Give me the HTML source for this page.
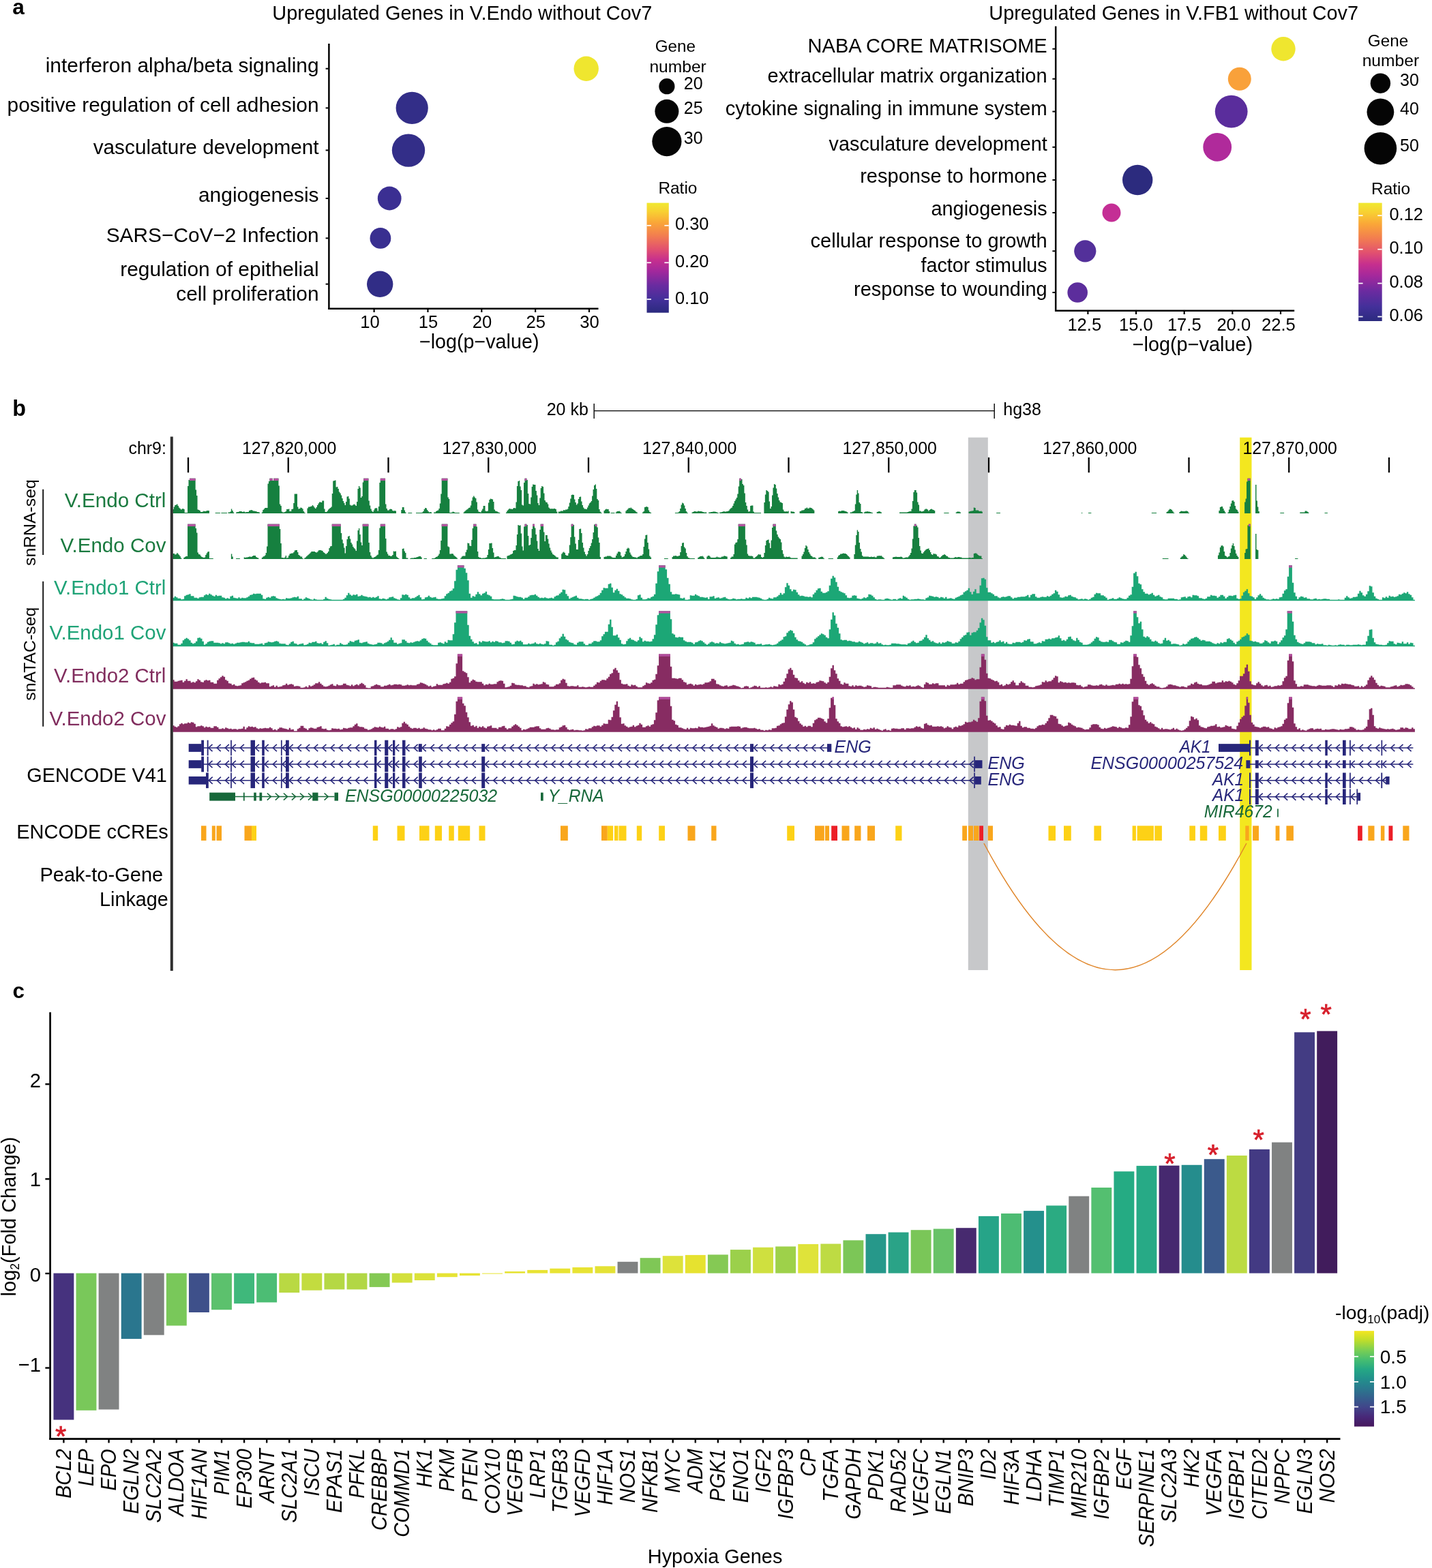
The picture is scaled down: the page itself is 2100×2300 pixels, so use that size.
<!DOCTYPE html>
<html lang="en"><head><meta charset="utf-8"><title>Figure</title>
<style>
html,body{margin:0;padding:0;background:#fff;}
body{width:2100px;height:2300px;overflow:hidden;}
svg{display:block;font-family:'Liberation Sans', sans-serif;}
svg text{font-family:'Liberation Sans', sans-serif;}
</style></head><body>
<svg width="2100" height="2300" viewBox="0 0 2100 2300">
<defs>
<linearGradient id="gRatio" x1="0" y1="1" x2="0" y2="0">
<stop offset="0" stop-color="#2b2a7e"/>
<stop offset="0.12" stop-color="#43309a"/>
<stop offset="0.25" stop-color="#6a2ba0"/>
<stop offset="0.38" stop-color="#a3289c"/>
<stop offset="0.48" stop-color="#c62f8e"/>
<stop offset="0.58" stop-color="#e2516f"/>
<stop offset="0.70" stop-color="#f27d50"/>
<stop offset="0.82" stop-color="#faa638"/>
<stop offset="0.92" stop-color="#f8d032"/>
<stop offset="1" stop-color="#f0e92f"/>
</linearGradient>
<linearGradient id="gVir" x1="0" y1="0" x2="0" y2="1">
<stop offset="0" stop-color="#f4e61f"/>
<stop offset="0.1" stop-color="#bddd2c"/>
<stop offset="0.2" stop-color="#7bcf53"/>
<stop offset="0.3" stop-color="#47be70"/>
<stop offset="0.4" stop-color="#25a884"/>
<stop offset="0.5" stop-color="#22918c"/>
<stop offset="0.6" stop-color="#2a798e"/>
<stop offset="0.7" stop-color="#355f8d"/>
<stop offset="0.8" stop-color="#41458a"/>
<stop offset="0.9" stop-color="#482878"/>
<stop offset="1" stop-color="#46185d"/>
</linearGradient>
</defs>

<rect x="0" y="0" width="2100" height="2300" fill="#ffffff"/>
<g id="panel-a">
<text x="18.30" y="20.60" font-size="31.6" font-weight="bold">a</text>
<text x="399.30" y="28.70" font-size="28.9" textLength="557.00" lengthAdjust="spacingAndGlyphs">Upregulated Genes in V.Endo without Cov7</text>
<line x1="482.40" y1="64.00" x2="482.40" y2="454.00" stroke="#000" stroke-width="2.5"/>
<line x1="481.20" y1="452.80" x2="877.50" y2="452.80" stroke="#000" stroke-width="2.5"/>
<text x="467.60" y="106.20" font-size="29.8" text-anchor="end" textLength="400.90" lengthAdjust="spacingAndGlyphs">interferon alpha/beta signaling</text>
<line x1="477.60" y1="100.70" x2="481.40" y2="100.70" stroke="#000" stroke-width="2"/>
<text x="467.60" y="163.90" font-size="29.8" text-anchor="end" textLength="457.00" lengthAdjust="spacingAndGlyphs">positive regulation of cell adhesion</text>
<line x1="477.60" y1="158.40" x2="481.40" y2="158.40" stroke="#000" stroke-width="2"/>
<text x="467.60" y="225.90" font-size="29.8" text-anchor="end" textLength="330.90" lengthAdjust="spacingAndGlyphs">vasculature development</text>
<line x1="477.60" y1="220.40" x2="481.40" y2="220.40" stroke="#000" stroke-width="2"/>
<text x="467.60" y="295.90" font-size="29.8" text-anchor="end" textLength="176.70" lengthAdjust="spacingAndGlyphs">angiogenesis</text>
<line x1="477.60" y1="291.00" x2="481.40" y2="291.00" stroke="#000" stroke-width="2"/>
<text x="467.60" y="354.60" font-size="29.8" text-anchor="end" textLength="311.90" lengthAdjust="spacingAndGlyphs">SARS−CoV−2 Infection</text>
<line x1="477.60" y1="349.40" x2="481.40" y2="349.40" stroke="#000" stroke-width="2"/>
<text x="467.60" y="405.10" font-size="29.8" text-anchor="end" textLength="291.40" lengthAdjust="spacingAndGlyphs">regulation of epithelial</text>
<line x1="477.60" y1="416.70" x2="481.40" y2="416.70" stroke="#000" stroke-width="2"/>
<text x="467.60" y="440.90" font-size="29.8" text-anchor="end" textLength="209.40" lengthAdjust="spacingAndGlyphs">cell proliferation</text>
<line x1="548.60" y1="453.80" x2="548.60" y2="458.00" stroke="#000" stroke-width="2.2"/>
<text x="542.60" y="481.20" font-size="25.6" text-anchor="middle">10</text>
<line x1="627.45" y1="453.80" x2="627.45" y2="458.00" stroke="#000" stroke-width="2.2"/>
<text x="628.10" y="481.20" font-size="25.6" text-anchor="middle">15</text>
<line x1="706.30" y1="453.80" x2="706.30" y2="458.00" stroke="#000" stroke-width="2.2"/>
<text x="706.90" y="481.20" font-size="25.6" text-anchor="middle">20</text>
<line x1="785.15" y1="453.80" x2="785.15" y2="458.00" stroke="#000" stroke-width="2.2"/>
<text x="785.70" y="481.20" font-size="25.6" text-anchor="middle">25</text>
<line x1="864.00" y1="453.80" x2="864.00" y2="458.00" stroke="#000" stroke-width="2.2"/>
<text x="864.50" y="481.20" font-size="25.6" text-anchor="middle">30</text>
<text x="702.70" y="511.40" font-size="28.6" text-anchor="middle" textLength="175.50" lengthAdjust="spacingAndGlyphs">−log(p−value)</text>
<circle cx="859.70" cy="100.70" r="18.20" fill="#efe62f"/>
<circle cx="604.20" cy="158.40" r="23.60" fill="#332e88"/>
<circle cx="599.00" cy="220.60" r="24.20" fill="#332e88"/>
<circle cx="571.20" cy="291.00" r="17.40" fill="#3b2f92"/>
<circle cx="557.90" cy="349.40" r="15.40" fill="#392f90"/>
<circle cx="557.20" cy="416.80" r="19.20" fill="#312d86"/>
<text x="990.40" y="75.60" font-size="24.3" text-anchor="middle" textLength="59.30" lengthAdjust="spacingAndGlyphs">Gene</text>
<text x="994.10" y="105.50" font-size="24.3" text-anchor="middle" textLength="83.40" lengthAdjust="spacingAndGlyphs">number</text>
<circle cx="977.90" cy="126.70" r="11.60" fill="#050505"/>
<text x="1002.80" y="131.10" font-size="25">20</text>
<circle cx="977.90" cy="163.30" r="17.50" fill="#050505"/>
<text x="1002.80" y="167.10" font-size="25">25</text>
<circle cx="977.90" cy="207.60" r="21.60" fill="#050505"/>
<text x="1002.80" y="211.20" font-size="25">30</text>
<text x="993.90" y="284.30" font-size="24.8" text-anchor="middle" textLength="57.00" lengthAdjust="spacingAndGlyphs">Ratio</text>
<rect x="948.50" y="297.60" width="32.30" height="161.10" fill="url(#gRatio)"/>
<line x1="948.50" y1="330.80" x2="954.90" y2="330.80" stroke="#fff" stroke-width="1.7"/>
<line x1="974.40" y1="330.80" x2="980.80" y2="330.80" stroke="#fff" stroke-width="1.7"/>
<text x="990.00" y="337.30" font-size="25.4">0.30</text>
<line x1="948.50" y1="385.30" x2="954.90" y2="385.30" stroke="#fff" stroke-width="1.7"/>
<line x1="974.40" y1="385.30" x2="980.80" y2="385.30" stroke="#fff" stroke-width="1.7"/>
<text x="990.00" y="391.80" font-size="25.4">0.20</text>
<line x1="948.50" y1="439.00" x2="954.90" y2="439.00" stroke="#fff" stroke-width="1.7"/>
<line x1="974.40" y1="439.00" x2="980.80" y2="439.00" stroke="#fff" stroke-width="1.7"/>
<text x="990.00" y="445.50" font-size="25.4">0.10</text>
<text x="1450.30" y="28.70" font-size="28.9" textLength="541.70" lengthAdjust="spacingAndGlyphs">Upregulated Genes in V.FB1 without Cov7</text>
<line x1="1548.20" y1="38.50" x2="1548.20" y2="456.90" stroke="#000" stroke-width="2.5"/>
<line x1="1547.00" y1="455.70" x2="1898.20" y2="455.70" stroke="#000" stroke-width="2.5"/>
<text x="1535.70" y="76.60" font-size="29.1" text-anchor="end" textLength="351.10" lengthAdjust="spacingAndGlyphs">NABA CORE MATRISOME</text>
<line x1="1543.40" y1="71.70" x2="1547.20" y2="71.70" stroke="#000" stroke-width="2"/>
<text x="1535.70" y="120.60" font-size="29.1" text-anchor="end" textLength="410.10" lengthAdjust="spacingAndGlyphs">extracellular matrix organization</text>
<line x1="1543.40" y1="115.70" x2="1547.20" y2="115.70" stroke="#000" stroke-width="2"/>
<text x="1535.70" y="168.50" font-size="29.1" text-anchor="end" textLength="472.00" lengthAdjust="spacingAndGlyphs">cytokine signaling in immune system</text>
<line x1="1543.40" y1="163.60" x2="1547.20" y2="163.60" stroke="#000" stroke-width="2"/>
<text x="1535.70" y="220.70" font-size="29.1" text-anchor="end" textLength="320.10" lengthAdjust="spacingAndGlyphs">vasculature development</text>
<line x1="1543.40" y1="215.80" x2="1547.20" y2="215.80" stroke="#000" stroke-width="2"/>
<text x="1535.70" y="268.30" font-size="29.1" text-anchor="end" textLength="274.50" lengthAdjust="spacingAndGlyphs">response to hormone</text>
<line x1="1543.40" y1="264.00" x2="1547.20" y2="264.00" stroke="#000" stroke-width="2"/>
<text x="1535.70" y="316.20" font-size="29.1" text-anchor="end" textLength="170.20" lengthAdjust="spacingAndGlyphs">angiogenesis</text>
<line x1="1543.40" y1="312.00" x2="1547.20" y2="312.00" stroke="#000" stroke-width="2"/>
<text x="1535.70" y="363.40" font-size="29.1" text-anchor="end" textLength="347.20" lengthAdjust="spacingAndGlyphs">cellular response to growth</text>
<line x1="1543.40" y1="368.30" x2="1547.20" y2="368.30" stroke="#000" stroke-width="2"/>
<text x="1535.70" y="399.00" font-size="29.1" text-anchor="end" textLength="185.20" lengthAdjust="spacingAndGlyphs">factor stimulus</text>
<text x="1535.70" y="433.50" font-size="29.1" text-anchor="end" textLength="283.70" lengthAdjust="spacingAndGlyphs">response to wounding</text>
<line x1="1543.40" y1="429.00" x2="1547.20" y2="429.00" stroke="#000" stroke-width="2"/>
<line x1="1595.40" y1="456.80" x2="1595.40" y2="461.00" stroke="#000" stroke-width="2.2"/>
<text x="1590.30" y="485.20" font-size="25.6" text-anchor="middle">12.5</text>
<line x1="1666.05" y1="456.80" x2="1666.05" y2="461.00" stroke="#000" stroke-width="2.2"/>
<text x="1665.90" y="485.20" font-size="25.6" text-anchor="middle">15.0</text>
<line x1="1736.70" y1="456.80" x2="1736.70" y2="461.00" stroke="#000" stroke-width="2.2"/>
<text x="1736.80" y="485.20" font-size="25.6" text-anchor="middle">17.5</text>
<line x1="1807.35" y1="456.80" x2="1807.35" y2="461.00" stroke="#000" stroke-width="2.2"/>
<text x="1809.30" y="485.20" font-size="25.6" text-anchor="middle">20.0</text>
<line x1="1878.00" y1="456.80" x2="1878.00" y2="461.00" stroke="#000" stroke-width="2.2"/>
<text x="1874.90" y="485.20" font-size="25.6" text-anchor="middle">22.5</text>
<text x="1748.90" y="514.50" font-size="28.6" text-anchor="middle" textLength="176.50" lengthAdjust="spacingAndGlyphs">−log(p−value)</text>
<circle cx="1882.00" cy="71.70" r="17.70" fill="#efe62f"/>
<circle cx="1817.80" cy="115.70" r="17.00" fill="#f9a13a"/>
<circle cx="1805.70" cy="163.60" r="23.90" fill="#5a2d9c"/>
<circle cx="1785.20" cy="215.80" r="20.90" fill="#b02a9b"/>
<circle cx="1668.20" cy="264.00" r="22.20" fill="#2c2b7e"/>
<circle cx="1630.00" cy="312.00" r="13.50" fill="#c42e95"/>
<circle cx="1591.30" cy="368.30" r="16.10" fill="#53309a"/>
<circle cx="1580.20" cy="429.00" r="14.80" fill="#5c2d9c"/>
<text x="2035.50" y="67.50" font-size="24.3" text-anchor="middle" textLength="59.30" lengthAdjust="spacingAndGlyphs">Gene</text>
<text x="2039.40" y="97.10" font-size="24.3" text-anchor="middle" textLength="83.40" lengthAdjust="spacingAndGlyphs">number</text>
<circle cx="2024.40" cy="122.20" r="14.70" fill="#050505"/>
<text x="2053.00" y="126.30" font-size="25">30</text>
<circle cx="2024.40" cy="164.30" r="19.90" fill="#050505"/>
<text x="2053.00" y="168.30" font-size="25">40</text>
<circle cx="2024.40" cy="217.70" r="23.80" fill="#050505"/>
<text x="2053.00" y="221.90" font-size="25">50</text>
<text x="2039.60" y="284.60" font-size="24.8" text-anchor="middle" textLength="57.00" lengthAdjust="spacingAndGlyphs">Ratio</text>
<rect x="1992.20" y="297.60" width="34.50" height="173.40" fill="url(#gRatio)"/>
<line x1="1992.20" y1="316.20" x2="1998.60" y2="316.20" stroke="#fff" stroke-width="1.7"/>
<line x1="2020.30" y1="316.20" x2="2026.70" y2="316.20" stroke="#fff" stroke-width="1.7"/>
<text x="2037.50" y="322.70" font-size="25.4">0.12</text>
<line x1="1992.20" y1="365.70" x2="1998.60" y2="365.70" stroke="#fff" stroke-width="1.7"/>
<line x1="2020.30" y1="365.70" x2="2026.70" y2="365.70" stroke="#fff" stroke-width="1.7"/>
<text x="2037.50" y="372.20" font-size="25.4">0.10</text>
<line x1="1992.20" y1="415.60" x2="1998.60" y2="415.60" stroke="#fff" stroke-width="1.7"/>
<line x1="2020.30" y1="415.60" x2="2026.70" y2="415.60" stroke="#fff" stroke-width="1.7"/>
<text x="2037.50" y="422.10" font-size="25.4">0.08</text>
<line x1="1992.20" y1="464.50" x2="1998.60" y2="464.50" stroke="#fff" stroke-width="1.7"/>
<line x1="2020.30" y1="464.50" x2="2026.70" y2="464.50" stroke="#fff" stroke-width="1.7"/>
<text x="2037.50" y="471.00" font-size="25.4">0.06</text>
</g>
<g id="panel-b">
<text x="18.20" y="609.60" font-size="32.4" font-weight="bold">b</text>
<rect x="1419.80" y="641.70" width="29.00" height="781.30" fill="#c7c8ca"/>
<rect x="1818.20" y="641.70" width="17.30" height="781.30" fill="#f3e71f"/>
<text x="862.80" y="608.90" font-size="25.0" text-anchor="end">20 kb</text>
<line x1="871.20" y1="602.60" x2="1458.20" y2="602.60" stroke="#000" stroke-width="1.4"/>
<line x1="871.20" y1="592.00" x2="871.20" y2="614.00" stroke="#000" stroke-width="1.4"/>
<line x1="1458.20" y1="592.00" x2="1458.20" y2="614.00" stroke="#000" stroke-width="1.4"/>
<text x="1471.30" y="608.90" font-size="25.0">hg38</text>
<text x="243.90" y="665.80" font-size="24.9" text-anchor="end">chr9:</text>
<line x1="276.00" y1="671.00" x2="276.00" y2="693.20" stroke="#000" stroke-width="2.3"/>
<line x1="422.75" y1="671.00" x2="422.75" y2="693.20" stroke="#000" stroke-width="2.3"/>
<line x1="569.50" y1="671.00" x2="569.50" y2="693.20" stroke="#000" stroke-width="2.3"/>
<line x1="716.25" y1="671.00" x2="716.25" y2="693.20" stroke="#000" stroke-width="2.3"/>
<line x1="863.00" y1="671.00" x2="863.00" y2="693.20" stroke="#000" stroke-width="2.3"/>
<line x1="1009.75" y1="671.00" x2="1009.75" y2="693.20" stroke="#000" stroke-width="2.3"/>
<line x1="1156.50" y1="671.00" x2="1156.50" y2="693.20" stroke="#000" stroke-width="2.3"/>
<line x1="1303.25" y1="671.00" x2="1303.25" y2="693.20" stroke="#000" stroke-width="2.3"/>
<line x1="1450.00" y1="671.00" x2="1450.00" y2="693.20" stroke="#000" stroke-width="2.3"/>
<line x1="1596.75" y1="671.00" x2="1596.75" y2="693.20" stroke="#000" stroke-width="2.3"/>
<line x1="1743.50" y1="671.00" x2="1743.50" y2="693.20" stroke="#000" stroke-width="2.3"/>
<line x1="1890.25" y1="671.00" x2="1890.25" y2="693.20" stroke="#000" stroke-width="2.3"/>
<line x1="2037.00" y1="671.00" x2="2037.00" y2="693.20" stroke="#000" stroke-width="2.3"/>
<text x="424.15" y="665.70" font-size="24.9" text-anchor="middle">127,820,000</text>
<text x="717.65" y="665.70" font-size="24.9" text-anchor="middle">127,830,000</text>
<text x="1011.15" y="665.70" font-size="24.9" text-anchor="middle">127,840,000</text>
<text x="1304.65" y="665.70" font-size="24.9" text-anchor="middle">127,850,000</text>
<text x="1598.15" y="665.70" font-size="24.9" text-anchor="middle">127,860,000</text>
<text x="1891.65" y="665.70" font-size="24.9" text-anchor="middle">127,870,000</text>
<text x="243.40" y="743.60" font-size="29.2" text-anchor="end" fill="#1a7a3f" textLength="148.70" lengthAdjust="spacingAndGlyphs">V.Endo Ctrl</text>
<text x="243.40" y="810.00" font-size="29.2" text-anchor="end" fill="#1a7a3f" textLength="154.80" lengthAdjust="spacingAndGlyphs">V.Endo Cov</text>
<text x="243.40" y="871.80" font-size="29.2" text-anchor="end" fill="#1fa377" textLength="164.30" lengthAdjust="spacingAndGlyphs">V.Endo1 Ctrl</text>
<text x="243.40" y="938.30" font-size="29.2" text-anchor="end" fill="#1fa377" textLength="170.80" lengthAdjust="spacingAndGlyphs">V.Endo1 Cov</text>
<text x="243.40" y="1001.00" font-size="29.2" text-anchor="end" fill="#812d5e" textLength="164.30" lengthAdjust="spacingAndGlyphs">V.Endo2 Ctrl</text>
<text x="243.40" y="1063.80" font-size="29.2" text-anchor="end" fill="#812d5e" textLength="170.80" lengthAdjust="spacingAndGlyphs">V.Endo2 Cov</text>
<text x="52.40" y="766.60" font-size="24.8" text-anchor="middle" transform="rotate(-90 52.40 766.60)">snRNA-seq</text>
<text x="52.40" y="959.20" font-size="24.8" text-anchor="middle" transform="rotate(-90 52.40 959.20)">snATAC-seq</text>
<line x1="63.20" y1="717.80" x2="63.20" y2="814.00" stroke="#1a1a1a" stroke-width="2.0"/>
<line x1="63.20" y1="852.80" x2="63.20" y2="1065.70" stroke="#1a1a1a" stroke-width="2.0"/>
<text x="244.90" y="1146.90" font-size="28.8" text-anchor="end" textLength="205.60" lengthAdjust="spacingAndGlyphs">GENCODE V41</text>
<text x="246.80" y="1229.90" font-size="28.9" text-anchor="end" textLength="222.60" lengthAdjust="spacingAndGlyphs">ENCODE cCREs</text>
<text x="239.20" y="1293.40" font-size="28.9" text-anchor="end" textLength="180.80" lengthAdjust="spacingAndGlyphs">Peak-to-Gene</text>
<text x="246.80" y="1328.70" font-size="28.9" text-anchor="end" textLength="100.80" lengthAdjust="spacingAndGlyphs">Linkage</text>
<g id="tracks">
<path d="M253.30 753.00V747.0H254.75V743.5H256.20V741.0H257.65V740.5H259.10V739.5H260.55V742.0H262.00V744.5H263.45V746.0H264.90V747.5H266.35V746.5H267.80V746.0H269.25V747.0H270.70V752.0H275.05V713.0H276.50V704.0H277.95V701.7H286.65V718.5H288.10V727.0H289.55V747.5H291.00V748.0H292.45V749.0H293.90V751.0H296.80V750.5H298.25V749.5H299.70V750.0H302.60V749.0H306.95V753.00ZM315.65 753.00V752.0H322.90V753.00ZM324.35 753.00V752.0H333.05V753.00ZM334.50 753.00V751.5H337.40V750.5H338.85V746.5H340.30V749.0H341.75V751.5H343.20V753.00ZM346.10 753.00V751.5H347.55V751.0H350.45V750.0H354.80V751.0H356.25V750.5H359.15V751.5H360.60V751.0H364.95V749.0H366.40V748.5H367.85V748.0H369.30V748.5H370.75V749.5H373.65V750.0H376.55V751.0H379.45V751.5H380.90V753.00ZM383.80 753.00V751.5H385.25V748.0H386.70V746.5H388.15V745.0H392.50V709.5H393.95V706.0H395.40V701.7H399.75V705.0H401.20V701.7H408.45V712.5H409.90V739.5H411.35V742.0H412.80V750.5H414.25V751.5H417.15V751.0H418.60V750.0H420.05V747.0H422.95V746.5H424.40V750.0H427.30V747.0H428.75V746.5H430.20V738.0H431.65V724.5H436.00V743.5H437.45V746.5H438.90V746.0H440.35V744.5H441.80V745.0H443.25V746.5H444.70V750.0H446.15V752.0H447.60V753.00ZM450.50 753.00V745.5H451.95V743.5H454.85V743.0H456.30V742.5H457.75V741.0H459.20V742.5H460.65V744.5H462.10V746.0H463.55V744.0H465.00V741.0H466.45V738.5H467.90V736.5H470.80V737.0H472.25V734.5H475.15V746.5H476.60V751.0H479.50V749.5H480.95V747.5H482.40V746.0H483.85V745.0H485.30V743.5H486.75V724.0H488.20V705.5H489.65V705.0H491.10V704.5H492.55V714.5H494.00V714.0H495.45V717.0H496.90V721.5H498.35V723.5H499.80V726.5H501.25V731.0H502.70V735.0H504.15V738.0H505.60V741.0H507.05V736.0H508.50V728.5H509.95V728.0H511.40V731.5H512.85V740.5H514.30V741.5H517.20V740.5H518.65V739.5H520.10V740.5H521.55V742.0H523.00V736.0H524.45V717.0H525.90V713.0H527.35V715.5H528.80V730.0H530.25V728.0H531.70V707.5H533.15V701.7H540.40V734.5H541.85V741.5H543.30V746.5H544.75V749.5H546.20V751.0H547.65V748.5H549.10V746.0H550.55V745.0H552.00V745.5H553.45V749.5H554.90V743.0H556.35V708.0H557.80V701.7H565.05V739.5H566.50V746.0H567.95V748.5H570.85V747.0H572.30V746.5H573.75V747.0H575.20V749.0H576.65V749.5H578.10V749.0H579.55V749.5H581.00V753.00ZM588.25 753.00V748.0H589.70V744.0H592.60V748.5H594.05V751.5H595.50V753.00ZM598.40 753.00V752.0H604.20V753.00ZM610.00 753.00V752.0H618.70V751.5H620.15V750.0H621.60V747.0H623.05V745.0H624.50V745.5H625.95V748.0H627.40V750.0H628.85V751.5H630.30V751.0H631.75V751.5H633.20V753.00ZM636.10 753.00V751.5H639.00V750.0H640.45V749.0H641.90V748.5H643.35V746.0H644.80V738.5H646.25V724.5H647.70V701.7H656.40V729.5H657.85V732.0H659.30V752.0H662.20V751.5H663.65V750.5H665.10V751.0H666.55V752.0H673.80V753.00ZM679.60 753.00V751.5H681.05V750.0H682.50V748.5H683.95V747.5H685.40V746.5H686.85V745.0H688.30V744.5H689.75V741.5H691.20V734.5H692.65V729.5H694.10V727.5H695.55V729.5H697.00V731.0H698.45V736.5H699.90V747.5H701.35V750.5H702.80V751.0H704.25V751.5H705.70V749.0H707.15V746.5H708.60V742.0H711.50V749.5H712.95V750.0H714.40V749.5H715.85V737.5H717.30V733.0H718.75V731.5H720.20V732.0H721.65V732.5H723.10V736.0H724.55V747.5H726.00V749.5H727.45V750.0H728.90V750.5H730.35V751.5H731.80V752.0H733.25V753.00ZM741.95 753.00V751.5H743.40V749.0H744.85V747.5H746.30V746.0H747.75V746.5H750.65V747.0H752.10V745.5H753.55V745.0H755.00V745.5H756.45V736.5H757.90V713.0H759.35V706.0H760.80V705.0H762.25V713.5H763.70V719.0H765.15V740.5H766.60V741.5H768.05V708.0H769.50V701.7H772.40V704.0H773.85V724.0H775.30V739.0H776.75V739.5H778.20V729.5H779.65V714.0H781.10V710.5H782.55V711.0H785.45V720.0H786.90V726.5H788.35V738.0H789.80V741.0H791.25V730.5H792.70V716.0H794.15V713.0H795.60V714.0H797.05V723.5H798.50V734.0H799.95V736.5H801.40V737.0H802.85V739.5H804.30V744.5H805.75V746.0H807.20V746.5H808.65V746.0H810.10V746.5H811.55V746.0H814.45V747.0H815.90V750.5H817.35V753.00ZM818.80 753.00V750.5H821.70V749.5H826.05V748.0H827.50V748.5H828.95V747.5H831.85V746.5H833.30V743.0H834.75V737.5H836.20V731.5H837.65V726.0H839.10V725.5H840.55V726.0H842.00V732.5H843.45V737.0H844.90V740.5H846.35V738.5H847.80V732.0H849.25V729.0H850.70V728.5H852.15V735.5H853.60V741.0H855.05V744.5H856.50V746.5H859.40V747.0H860.85V744.5H862.30V741.5H863.75V738.5H865.20V737.0H866.65V735.0H868.10V727.5H869.55V718.0H871.00V712.0H872.45V710.5H873.90V717.0H875.35V732.0H876.80V734.0H878.25V747.0H879.70V750.5H881.15V752.0H882.60V753.00ZM885.50 753.00V749.0H886.95V747.5H888.40V746.5H889.85V747.0H892.75V750.0H894.20V753.00ZM895.65 753.00V752.0H901.45V753.00ZM902.90 753.00V751.5H904.35V750.0H907.25V749.5H908.70V750.5H910.15V752.0H911.60V753.00ZM917.40 753.00V749.5H918.85V748.0H920.30V746.5H921.75V745.0H923.20V745.5H924.65V744.5H926.10V746.0H927.55V747.0H929.00V748.0H930.45V749.0H931.90V750.5H933.35V751.5H934.80V753.00ZM942.05 753.00V751.5H943.50V750.0H944.95V744.0H946.40V743.5H947.85V743.0H949.30V744.0H950.75V748.5H952.20V751.0H953.65V752.0H955.10V753.00ZM989.90 753.00V752.0H994.25V751.5H995.70V750.0H997.15V746.0H998.60V740.5H1000.05V737.5H1001.50V738.5H1002.95V741.5H1004.40V746.0H1005.85V750.0H1007.30V752.0H1008.75V753.00ZM1014.55 753.00V751.5H1016.00V751.0H1017.45V750.0H1020.35V750.5H1023.25V749.5H1024.70V750.0H1029.05V750.5H1030.50V751.0H1031.95V751.5H1036.30V753.00ZM1039.20 753.00V751.5H1042.10V751.0H1045.00V750.5H1049.35V751.0H1050.80V751.5H1052.25V752.0H1053.70V753.00ZM1055.15 753.00V751.5H1058.05V751.0H1059.50V750.5H1060.95V750.0H1062.40V750.5H1065.30V750.0H1068.20V749.0H1069.65V747.0H1071.10V745.5H1072.55V744.5H1074.00V742.0H1075.45V738.5H1076.90V735.0H1078.35V732.5H1079.80V730.0H1081.25V724.5H1082.70V713.5H1084.15V701.7H1087.05V703.0H1088.50V710.0H1089.95V712.0H1091.40V723.5H1092.85V737.0H1094.30V742.0H1095.75V747.5H1097.20V750.5H1098.65V750.0H1100.10V742.0H1101.55V741.5H1104.45V750.5H1105.90V752.0H1116.05V753.00ZM1120.40 753.00V737.0H1121.85V725.5H1123.30V719.0H1124.75V720.0H1126.20V721.5H1127.65V735.5H1129.10V746.0H1130.55V743.0H1132.00V726.5H1133.45V715.5H1134.90V710.0H1136.35V711.0H1137.80V716.5H1139.25V724.0H1140.70V729.5H1142.15V734.0H1143.60V736.5H1145.05V737.0H1146.50V738.0H1147.95V747.5H1149.40V750.0H1150.85V750.5H1152.30V750.0H1153.75V750.5H1155.20V749.5H1156.65V753.00ZM1159.55 753.00V750.0H1161.00V750.5H1163.90V751.0H1165.35V753.00ZM1172.60 753.00V750.0H1174.05V749.5H1175.50V748.5H1178.40V748.0H1179.85V746.0H1181.30V745.5H1182.75V744.5H1184.20V746.0H1185.65V745.5H1187.10V744.5H1188.55V745.0H1190.00V745.5H1191.45V747.0H1192.90V748.5H1194.35V753.00ZM1229.15 753.00V750.0H1230.60V749.5H1232.05V750.0H1233.50V749.0H1237.85V749.5H1239.30V750.0H1240.75V750.5H1242.20V751.5H1243.65V753.00ZM1246.55 753.00V751.5H1249.45V750.5H1250.90V750.0H1252.35V749.0H1253.80V739.5H1255.25V725.5H1256.70V719.0H1258.15V723.5H1259.60V737.0H1261.05V739.0H1262.50V751.0H1263.95V751.5H1265.40V753.00ZM1266.85 753.00V751.5H1268.30V750.5H1271.20V750.0H1272.65V750.5H1275.55V751.0H1277.00V751.5H1278.45V752.0H1279.90V753.00ZM1285.70 753.00V751.0H1287.15V750.5H1288.60V750.0H1290.05V750.5H1291.50V751.5H1292.95V753.00ZM1319.05 753.00V751.5H1330.65V751.0H1332.10V750.5H1333.55V750.0H1336.45V746.5H1337.90V735.0H1339.35V722.0H1340.80V719.0H1343.70V722.5H1345.15V736.5H1346.60V740.5H1348.05V749.5H1350.95V750.5H1352.40V750.0H1353.85V749.5H1355.30V747.5H1356.75V746.5H1359.65V747.5H1361.10V749.5H1362.55V748.0H1364.00V747.0H1365.45V746.5H1366.90V747.5H1368.35V748.0H1369.80V749.0H1371.25V753.00ZM1384.30 753.00V752.0H1391.55V753.00ZM1401.70 753.00V751.5H1403.15V750.5H1407.50V751.5H1408.95V753.00ZM1420.55 753.00V750.5H1422.00V750.0H1423.45V749.5H1426.35V749.0H1427.80V744.5H1429.25V745.0H1430.70V748.5H1435.05V749.5H1436.50V750.0H1437.95V749.5H1439.40V750.5H1440.85V753.00ZM1461.15 753.00V752.0H1466.95V753.00ZM1585.85 753.00V752.0H1587.30V753.00ZM1596.00 753.00V752.0H1600.35V753.00ZM1688.80 753.00V752.0H1696.05V753.00ZM1710.55 753.00V751.0H1712.00V750.0H1713.45V748.0H1714.90V746.5H1716.35V747.0H1717.80V748.0H1719.25V750.0H1720.70V752.0H1722.15V753.00ZM1729.40 753.00V751.0H1730.85V750.0H1732.30V749.5H1733.75V750.0H1738.10V749.5H1741.00V750.0H1742.45V752.0H1743.90V753.00ZM1787.40 753.00V749.0H1788.85V744.0H1790.30V743.0H1793.20V746.0H1794.65V749.0H1796.10V751.5H1797.55V753.00ZM1800.45 753.00V751.5H1801.90V747.5H1803.35V743.0H1804.80V738.5H1806.25V734.5H1807.70V734.0H1809.15V736.0H1810.60V742.0H1812.05V746.5H1813.50V748.0H1814.95V750.5H1816.40V753.00ZM1825.10 753.00V736.5H1826.55V731.5H1828.00V706.5H1829.45V701.7H1833.80V753.00ZM1841.05 753.00V711.0H1842.50V734.5H1843.95V743.5H1845.40V750.0H1846.85V753.00ZM1877.30 753.00V752.0H1883.10V753.00ZM1906.30 753.00V751.5H1913.55V749.5H1916.45V750.5H1917.90V751.5H1919.35V753.00ZM1942.55 753.00V752.0H1946.90V753.00Z" fill="#16803f"/>
<rect x="277.95" y="701.70" width="8.70" height="3.40" fill="#b2539f"/>
<rect x="395.40" y="701.70" width="4.35" height="3.40" fill="#b2539f"/>
<rect x="401.20" y="701.70" width="7.25" height="3.40" fill="#b2539f"/>
<rect x="533.15" y="701.70" width="7.25" height="3.40" fill="#b2539f"/>
<rect x="557.80" y="701.70" width="7.25" height="3.40" fill="#b2539f"/>
<rect x="647.70" y="701.70" width="8.70" height="3.40" fill="#b2539f"/>
<rect x="769.50" y="701.70" width="2.90" height="3.40" fill="#b2539f"/>
<rect x="1084.15" y="701.70" width="2.90" height="3.40" fill="#b2539f"/>
<rect x="1829.45" y="701.70" width="4.35" height="3.40" fill="#b2539f"/>
<path d="M253.30 820.00V812.0H256.20V813.5H257.65V813.0H259.10V811.0H260.55V812.5H262.00V814.0H263.45V816.0H264.90V818.5H266.35V820.00ZM269.25 820.00V818.0H270.70V817.0H272.15V816.0H275.05V768.7H286.65V775.0H288.10V781.5H289.55V810.5H291.00V813.0H292.45V813.5H293.90V815.5H295.35V817.0H296.80V817.5H298.25V818.0H299.70V817.5H301.15V814.0H302.60V811.5H304.05V809.5H305.50V809.0H306.95V819.0H312.75V820.00ZM338.85 820.00V812.5H340.30V816.5H341.75V820.00ZM346.10 820.00V819.0H351.90V820.00ZM357.70 820.00V817.5H359.15V818.0H360.60V817.5H363.50V817.0H364.95V816.5H367.85V817.0H369.30V816.0H370.75V815.0H375.10V817.0H376.55V818.0H378.00V818.5H379.45V820.00ZM383.80 820.00V818.0H385.25V816.5H386.70V816.0H388.15V814.5H389.60V811.0H391.05V801.5H392.50V768.7H409.90V776.0H411.35V797.0H412.80V818.0H415.70V818.5H417.15V817.5H418.60V815.0H420.05V818.5H421.50V818.0H422.95V815.0H424.40V812.5H425.85V812.0H427.30V811.5H430.20V810.0H431.65V807.5H433.10V807.0H436.00V810.0H437.45V814.0H438.90V815.0H440.35V816.5H443.25V819.0H444.70V820.00ZM446.15 820.00V818.5H447.60V817.5H449.05V816.0H450.50V814.5H451.95V813.5H453.40V812.0H454.85V810.5H456.30V809.0H462.10V810.0H463.55V810.5H465.00V809.5H466.45V807.5H467.90V807.0H470.80V807.5H472.25V808.0H473.70V810.0H475.15V811.0H476.60V812.5H479.50V811.0H480.95V809.0H482.40V804.0H483.85V801.5H485.30V801.0H486.75V768.7H499.80V782.0H501.25V791.5H502.70V797.0H504.15V803.5H505.60V811.5H507.05V801.0H508.50V791.0H509.95V787.0H511.40V786.0H512.85V790.5H514.30V796.0H515.75V798.5H517.20V802.0H518.65V804.0H520.10V805.5H521.55V808.0H523.00V793.5H524.45V778.0H525.90V775.0H527.35V784.0H528.80V795.5H530.25V800.0H531.70V768.7H540.40V796.0H541.85V810.0H543.30V815.0H544.75V817.5H546.20V818.5H547.65V817.5H549.10V817.0H550.55V816.0H552.00V814.5H553.45V813.5H554.90V807.0H556.35V774.5H557.80V768.7H565.05V790.0H566.50V809.5H567.95V812.5H569.40V815.0H572.30V816.0H573.75V815.5H575.20V814.0H576.65V808.5H578.10V809.0H579.55V808.5H581.00V816.5H582.45V818.0H583.90V819.0H585.35V820.00ZM589.70 820.00V805.0H591.15V804.5H592.60V808.5H594.05V811.0H595.50V818.5H598.40V820.00ZM601.30 820.00V819.0H602.75V818.5H607.10V818.0H610.00V817.5H611.45V817.0H612.90V816.5H614.35V816.0H617.25V817.5H618.70V820.00ZM621.60 820.00V819.0H625.95V820.00ZM633.20 820.00V819.0H637.55V818.0H639.00V817.0H640.45V816.5H641.90V815.0H643.35V812.5H644.80V807.0H646.25V793.0H647.70V768.7H656.40V801.5H657.85V802.5H659.30V812.5H662.20V812.0H663.65V812.5H665.10V814.5H666.55V816.0H668.00V817.0H669.45V818.5H670.90V820.00ZM675.25 820.00V818.5H676.70V816.5H678.15V815.5H682.50V810.0H683.95V806.5H685.40V796.5H686.85V797.0H688.30V800.5H689.75V801.0H691.20V792.0H692.65V775.0H694.10V768.7H698.45V772.5H699.90V809.0H701.35V817.0H702.80V818.0H705.70V819.0H707.15V818.5H711.50V818.0H712.95V817.5H714.40V814.0H715.85V806.0H717.30V797.0H720.20V796.5H721.65V804.0H723.10V810.5H724.55V817.5H726.00V817.0H727.45V816.5H728.90V816.0H731.80V817.5H733.25V818.0H734.70V819.0H741.95V820.00ZM743.40 820.00V815.5H744.85V815.0H746.30V814.5H747.75V813.5H749.20V813.0H750.65V812.0H752.10V808.0H753.55V807.0H756.45V800.0H757.90V784.0H759.35V770.0H760.80V771.0H762.25V770.5H763.70V782.5H765.15V801.5H766.60V807.5H768.05V772.5H769.50V768.7H772.40V770.0H773.85V786.0H775.30V800.0H776.75V799.0H778.20V789.0H779.65V776.0H781.10V768.7H784.00V774.5H785.45V784.0H786.90V793.5H788.35V805.0H789.80V808.0H791.25V777.0H792.70V768.7H797.05V780.5H798.50V794.0H799.95V785.0H802.85V790.5H804.30V797.5H805.75V803.5H807.20V807.5H808.65V810.5H810.10V813.0H811.55V814.0H813.00V815.0H814.45V816.5H815.90V817.5H818.80V820.00ZM823.15 820.00V812.5H824.60V810.5H826.05V809.5H827.50V811.0H828.95V814.0H830.40V815.0H833.30V811.5H834.75V799.5H836.20V788.0H837.65V768.7H840.55V770.0H842.00V787.5H843.45V797.5H844.90V806.0H847.80V792.0H849.25V776.0H850.70V775.5H852.15V782.0H853.60V796.0H855.05V803.5H856.50V809.5H857.95V813.0H859.40V815.5H860.85V813.0H862.30V808.0H863.75V804.0H865.20V801.0H866.65V796.5H868.10V791.0H869.55V781.0H871.00V769.5H872.45V768.7H875.35V773.5H876.80V788.5H878.25V796.0H879.70V817.0H881.15V820.00ZM885.50 820.00V817.0H886.95V816.5H889.85V815.5H895.65V816.5H897.10V817.5H898.55V818.0H902.90V815.0H904.35V812.0H905.80V809.5H907.25V809.0H908.70V810.0H910.15V815.0H911.60V817.5H913.05V817.0H914.50V816.0H915.95V813.0H917.40V809.0H918.85V805.0H920.30V803.5H921.75V804.5H923.20V810.5H924.65V813.5H926.10V815.5H927.55V817.0H930.45V817.5H933.35V818.5H934.80V817.0H936.25V816.5H937.70V815.5H939.15V815.0H942.05V813.0H943.50V802.0H944.95V790.5H946.40V785.0H947.85V784.5H949.30V796.0H950.75V805.5H952.20V815.5H953.65V817.5H955.10V820.00ZM973.95 820.00V819.0H979.75V820.00ZM985.55 820.00V817.0H987.00V815.5H989.90V815.0H991.35V815.5H992.80V816.0H994.25V815.5H995.70V815.0H997.15V810.0H998.60V801.0H1000.05V796.5H1001.50V796.0H1002.95V802.5H1004.40V804.5H1005.85V811.0H1007.30V816.0H1008.75V818.0H1010.20V818.5H1011.65V819.0H1018.90V820.00ZM1023.25 820.00V818.0H1024.70V817.0H1026.15V816.0H1029.05V815.5H1030.50V816.5H1031.95V818.5H1033.40V820.00ZM1036.30 820.00V816.5H1037.75V815.0H1040.65V816.5H1042.10V818.0H1049.35V817.5H1050.80V816.5H1052.25V817.5H1055.15V818.0H1056.60V817.5H1058.05V816.5H1060.95V815.5H1063.85V816.0H1065.30V816.5H1066.75V820.00ZM1071.10 820.00V818.0H1072.55V816.5H1075.45V813.0H1076.90V798.5H1078.35V796.0H1079.80V795.5H1081.25V791.0H1082.70V768.7H1092.85V791.5H1094.30V799.5H1095.75V812.5H1097.20V815.0H1098.65V815.5H1103.00V816.0H1104.45V818.5H1107.35V817.0H1108.80V816.0H1110.25V814.5H1111.70V813.0H1113.15V813.5H1116.05V817.0H1117.50V818.0H1118.95V817.0H1120.40V811.0H1121.85V800.0H1123.30V793.0H1124.75V792.0H1126.20V791.5H1127.65V796.5H1129.10V804.0H1130.55V792.5H1132.00V774.0H1133.45V768.7H1137.80V778.5H1139.25V784.0H1140.70V787.5H1142.15V789.5H1143.60V791.0H1145.05V795.5H1146.50V807.0H1147.95V812.5H1149.40V816.5H1150.85V817.5H1152.30V816.5H1153.75V817.0H1156.65V816.5H1158.10V817.5H1159.55V818.5H1169.70V820.00ZM1175.50 820.00V815.5H1176.95V813.0H1178.40V809.5H1179.85V804.0H1181.30V800.0H1182.75V801.5H1184.20V806.0H1185.65V810.0H1187.10V812.5H1188.55V815.0H1190.00V816.0H1191.45V817.5H1195.80V819.0H1197.25V820.00ZM1200.15 820.00V818.0H1201.60V817.5H1203.05V817.0H1204.50V816.5H1205.95V817.0H1207.40V819.0H1208.85V820.00ZM1214.65 820.00V819.0H1221.90V820.00ZM1227.70 820.00V817.5H1229.15V815.0H1230.60V814.0H1232.05V812.5H1234.95V812.0H1236.40V811.5H1237.85V812.0H1240.75V813.0H1242.20V814.5H1243.65V816.0H1245.10V817.5H1246.55V820.00ZM1252.35 820.00V813.0H1253.80V799.5H1255.25V785.0H1256.70V777.5H1258.15V780.0H1259.60V796.0H1261.05V805.0H1262.50V809.5H1263.95V815.0H1265.40V816.5H1274.10V817.0H1277.00V816.5H1278.45V817.0H1281.35V816.5H1282.80V817.5H1285.70V815.5H1288.60V815.0H1290.05V815.5H1291.50V815.0H1292.95V816.5H1294.40V817.5H1295.85V819.0H1297.30V820.00ZM1308.90 820.00V817.5H1310.35V817.0H1313.25V816.5H1314.70V817.0H1320.50V816.5H1321.95V817.0H1323.40V818.5H1326.30V818.0H1327.75V817.5H1332.10V816.0H1333.55V814.0H1335.00V811.0H1336.45V804.5H1337.90V790.5H1339.35V771.5H1340.80V768.7H1343.70V771.0H1345.15V773.5H1346.60V789.0H1348.05V801.0H1349.50V807.5H1350.95V811.5H1352.40V812.0H1353.85V810.0H1355.30V808.0H1356.75V806.5H1358.20V805.5H1359.65V805.0H1361.10V804.5H1362.55V807.0H1364.00V810.0H1365.45V813.0H1366.90V814.0H1368.35V812.0H1369.80V812.5H1372.70V813.5H1374.15V816.0H1375.60V816.5H1377.05V818.0H1378.50V817.5H1379.95V816.0H1381.40V814.5H1382.85V814.0H1384.30V813.0H1385.75V814.0H1387.20V815.5H1388.65V816.0H1390.10V817.5H1391.55V818.0H1393.00V818.5H1398.80V818.0H1400.25V817.0H1401.70V817.5H1404.60V817.0H1407.50V817.5H1410.40V818.5H1420.55V818.0H1423.45V818.5H1424.90V818.0H1427.80V812.0H1429.25V811.5H1432.15V812.5H1433.60V814.0H1435.05V815.0H1436.50V815.5H1439.40V819.0H1440.85V820.00ZM1704.75 820.00V819.0H1713.45V820.00ZM1730.85 820.00V818.0H1732.30V816.5H1733.75V815.5H1735.20V813.0H1736.65V814.0H1738.10V815.5H1739.55V817.5H1741.00V819.0H1742.45V820.00ZM1785.95 820.00V814.5H1787.40V810.5H1788.85V803.0H1790.30V800.5H1791.75V800.0H1793.20V801.5H1794.65V809.0H1796.10V815.0H1797.55V816.0H1799.00V817.5H1800.45V816.5H1801.90V816.0H1803.35V811.0H1804.80V804.5H1806.25V800.0H1807.70V797.0H1809.15V801.0H1810.60V806.5H1812.05V812.0H1813.50V815.0H1814.95V817.0H1816.40V820.00ZM1825.10 820.00V811.0H1826.55V805.5H1828.00V805.0H1829.45V770.5H1830.90V768.7H1833.80V820.00ZM1841.05 820.00V783.0H1842.50V806.0H1843.95V807.0H1845.40V820.00ZM1899.05 820.00V819.0H1903.40V820.00Z" fill="#16803f"/>
<rect x="275.05" y="768.70" width="11.60" height="3.40" fill="#b2539f"/>
<rect x="392.50" y="768.70" width="17.40" height="3.40" fill="#b2539f"/>
<rect x="486.75" y="768.70" width="13.05" height="3.40" fill="#b2539f"/>
<rect x="531.70" y="768.70" width="8.70" height="3.40" fill="#b2539f"/>
<rect x="557.80" y="768.70" width="7.25" height="3.40" fill="#b2539f"/>
<rect x="647.70" y="768.70" width="8.70" height="3.40" fill="#b2539f"/>
<rect x="694.10" y="768.70" width="4.35" height="3.40" fill="#b2539f"/>
<rect x="769.50" y="768.70" width="2.90" height="3.40" fill="#b2539f"/>
<rect x="781.10" y="768.70" width="2.90" height="3.40" fill="#b2539f"/>
<rect x="792.70" y="768.70" width="4.35" height="3.40" fill="#b2539f"/>
<rect x="837.65" y="768.70" width="2.90" height="3.40" fill="#b2539f"/>
<rect x="872.45" y="768.70" width="2.90" height="3.40" fill="#b2539f"/>
<rect x="1082.70" y="768.70" width="10.15" height="3.40" fill="#b2539f"/>
<rect x="1133.45" y="768.70" width="4.35" height="3.40" fill="#b2539f"/>
<rect x="1340.80" y="768.70" width="2.90" height="3.40" fill="#b2539f"/>
<rect x="1830.90" y="768.70" width="2.90" height="3.40" fill="#b2539f"/>
<path d="M253.30 881.20V876.7H255.70V874.7H258.10V876.2H260.50V877.7H265.30V879.2H267.70V878.7H270.10V874.2H272.50V872.7H274.90V872.2H277.30V871.2H279.70V874.2H284.50V876.7H289.30V877.7H291.70V876.2H294.10V875.7H298.90V873.2H301.30V871.7H303.70V872.7H306.10V870.7H308.50V872.2H310.90V873.7H313.30V874.7H315.70V872.7H318.10V874.2H320.50V873.7H325.30V876.2H327.70V876.7H330.10V878.2H332.50V877.2H334.90V878.2H337.30V874.7H339.70V873.7H342.10V876.7H344.50V877.2H346.90V877.7H349.30V876.2H351.70V877.7H354.10V876.7H356.50V877.2H361.30V876.2H363.70V874.7H366.10V872.7H368.50V872.2H370.90V870.7H373.30V871.2H375.70V870.7H382.90V872.7H385.30V878.2H387.70V878.7H390.10V876.7H392.50V875.7H394.90V876.7H397.30V874.7H399.70V874.2H402.10V874.7H404.50V877.2H406.90V878.2H409.30V878.7H411.70V879.2H414.10V878.7H416.50V879.2H418.90V877.2H421.30V877.7H426.10V877.2H428.50V876.2H430.90V875.7H433.30V876.2H435.70V874.7H438.10V878.2H442.90V879.7H445.30V878.2H447.70V876.2H450.10V877.2H452.50V878.2H454.90V879.2H457.30V879.7H459.70V878.2H462.10V879.2H464.50V879.7H474.10V878.7H476.50V875.7H478.90V877.7H481.30V878.7H483.70V879.2H486.10V879.7H502.90V878.7H505.30V876.7H507.70V873.2H510.10V869.7H512.50V872.2H514.90V873.7H517.30V872.2H519.70V872.7H522.10V871.7H524.50V874.7H526.90V874.2H529.30V872.7H531.70V874.2H534.10V874.7H536.50V875.2H538.90V876.2H541.30V875.7H543.70V876.7H546.10V875.7H548.50V876.7H550.90V875.7H553.30V874.2H555.70V878.2H558.10V878.7H560.50V877.7H562.90V878.2H565.30V879.2H567.70V878.2H570.10V876.2H572.50V875.7H574.90V875.2H577.30V877.2H579.70V878.2H582.10V879.2H584.50V879.7H586.90V877.2H589.30V872.2H591.70V872.7H594.10V871.7H596.50V872.7H598.90V876.2H601.30V878.2H603.70V877.2H608.50V875.7H610.90V874.2H613.30V872.7H615.70V876.2H618.10V879.2H620.50V878.7H622.90V876.2H625.30V875.7H627.70V873.7H630.10V875.7H632.50V876.7H634.90V876.2H637.30V875.7H639.70V878.2H642.10V878.7H646.90V878.2H649.30V877.7H651.70V874.2H654.10V871.2H656.50V869.7H658.90V867.2H661.30V866.2H663.70V863.2H666.10V852.2H668.50V835.7H670.90V829.2H680.50V833.7H682.90V840.2H685.30V851.2H687.70V870.7H690.10V876.7H692.50V874.2H694.90V875.2H697.30V871.7H699.70V868.2H702.10V871.2H704.50V873.2H706.90V870.7H709.30V869.7H711.70V867.7H714.10V872.2H716.50V873.2H718.90V874.7H721.30V878.7H723.70V879.2H733.30V878.7H735.70V878.2H738.10V878.7H740.50V879.7H747.70V879.2H750.10V878.7H752.50V873.7H754.90V874.2H757.30V875.2H759.70V875.7H764.50V876.7H766.90V878.7H769.30V876.7H774.10V875.2H776.50V873.2H778.90V872.7H783.70V871.7H786.10V873.7H788.50V875.7H790.90V877.2H793.30V876.7H795.70V877.2H798.10V876.2H800.50V877.2H802.90V877.7H805.30V877.2H807.70V876.7H810.10V877.7H812.50V875.2H814.90V873.7H817.30V873.2H819.70V870.7H822.10V868.7H824.50V864.7H826.90V865.2H829.30V871.2H831.70V874.2H834.10V878.2H836.50V876.7H838.90V875.7H841.30V874.7H843.70V873.7H846.10V876.7H848.50V878.2H853.30V878.7H855.70V879.2H858.10V878.7H862.90V879.7H865.30V878.7H867.70V878.2H870.10V876.7H872.50V875.2H874.90V874.2H877.30V872.7H879.70V869.7H882.10V865.7H884.50V862.2H886.90V862.7H891.70V856.7H894.10V855.7H896.50V861.7H898.90V869.2H901.30V865.7H903.70V863.7H906.10V866.7H908.50V871.2H910.90V872.2H913.30V874.2H915.70V876.2H918.10V877.7H922.90V878.2H925.30V879.2H927.70V879.7H932.50V878.7H934.90V873.2H937.30V872.2H939.70V876.7H942.10V879.2H946.90V878.7H949.30V877.2H951.70V877.7H954.10V875.7H956.50V874.7H958.90V871.7H961.30V855.7H963.70V838.2H966.10V829.2H975.70V835.2H978.10V847.7H980.50V856.7H982.90V868.2H985.30V871.7H990.10V871.2H992.50V871.7H994.90V872.2H997.30V877.2H999.70V877.7H1002.10V876.7H1004.50V879.7H1009.30V879.2H1011.70V873.2H1014.10V873.7H1018.90V871.7H1021.30V873.2H1023.70V874.2H1026.10V875.7H1030.90V876.2H1033.30V876.7H1035.70V876.2H1038.10V878.7H1040.50V875.2H1045.30V874.2H1047.70V877.7H1050.10V876.7H1052.50V876.2H1054.90V877.7H1057.30V877.2H1059.70V876.2H1062.10V875.7H1064.50V877.7H1066.90V878.7H1069.30V879.2H1071.70V878.7H1074.10V877.7H1076.50V878.2H1078.90V879.2H1081.30V878.7H1086.10V878.2H1088.50V878.7H1093.30V876.7H1095.70V877.7H1098.10V876.2H1100.50V877.2H1102.90V875.7H1110.10V876.2H1112.50V876.7H1114.90V877.7H1117.30V879.2H1119.70V879.7H1124.50V878.7H1126.90V876.7H1129.30V877.7H1131.70V878.2H1134.10V876.2H1138.90V874.7H1141.30V872.7H1143.70V869.7H1146.10V872.2H1148.50V870.2H1150.90V861.2H1153.30V855.2H1155.70V858.7H1158.10V864.2H1160.50V867.2H1162.90V864.7H1165.30V865.2H1167.70V868.7H1170.10V872.2H1172.50V874.2H1174.90V873.7H1177.30V874.2H1179.70V875.2H1184.50V875.7H1186.90V875.2H1189.30V876.2H1191.70V871.7H1194.10V869.2H1196.50V865.7H1198.90V863.2H1201.30V862.7H1203.70V867.7H1206.10V869.7H1210.90V868.7H1213.30V867.2H1215.70V858.7H1218.10V848.7H1220.50V844.7H1222.90V847.2H1225.30V853.7H1227.70V860.7H1230.10V866.7H1232.50V868.2H1234.90V869.2H1237.30V870.2H1239.70V873.2H1242.10V876.7H1244.50V877.2H1246.90V876.7H1249.30V873.7H1251.70V873.2H1254.10V873.7H1256.50V877.7H1258.90V878.2H1261.30V878.7H1263.70V877.7H1266.10V876.2H1268.50V877.2H1270.90V875.7H1273.30V871.7H1275.70V872.2H1278.10V873.7H1280.50V876.2H1282.90V878.7H1285.30V879.7H1287.70V879.2H1292.50V879.7H1297.30V878.2H1299.70V877.7H1302.10V878.2H1304.50V879.2H1306.90V879.7H1309.30V878.7H1314.10V879.7H1316.50V878.2H1318.90V877.2H1321.30V878.2H1323.70V873.7H1326.10V875.2H1328.50V876.7H1330.90V878.7H1333.30V879.7H1335.70V879.2H1340.50V878.7H1345.30V878.2H1347.70V878.7H1350.10V879.2H1354.90V879.7H1357.30V877.2H1359.70V876.2H1362.10V873.7H1364.50V874.2H1366.90V874.7H1369.30V875.7H1371.70V875.2H1374.10V875.7H1376.50V877.2H1378.90V875.7H1381.30V876.2H1383.70V877.7H1386.10V875.7H1388.50V878.2H1390.90V877.7H1393.30V877.2H1395.70V878.2H1398.10V878.7H1400.50V876.7H1402.90V875.7H1405.30V874.7H1407.70V873.2H1410.10V872.2H1412.50V868.7H1414.90V867.2H1417.30V865.7H1419.70V862.7H1422.10V868.2H1424.50V871.7H1426.90V867.7H1429.30V864.2H1431.70V870.2H1436.50V858.7H1438.90V848.2H1441.30V847.7H1443.70V849.7H1446.10V862.2H1448.50V868.7H1453.30V870.2H1455.70V871.7H1458.10V874.2H1462.90V876.2H1465.30V877.2H1467.70V875.7H1470.10V875.2H1472.50V875.7H1474.90V875.2H1477.30V874.2H1482.10V876.2H1484.50V878.2H1486.90V876.7H1491.70V875.7H1496.50V875.2H1503.70V874.2H1506.10V872.7H1508.50V876.2H1510.90V872.7H1513.30V871.2H1518.10V875.2H1520.50V876.7H1525.30V875.7H1527.70V875.2H1530.10V875.7H1534.90V874.2H1537.30V875.2H1539.70V873.7H1542.10V871.7H1544.50V870.2H1546.90V865.7H1549.30V867.7H1551.70V872.2H1554.10V876.2H1556.50V876.7H1558.90V876.2H1561.30V874.7H1563.70V875.2H1566.10V873.2H1568.50V872.7H1570.90V874.7H1573.30V875.7H1575.70V876.2H1578.10V877.7H1580.50V879.2H1582.90V878.7H1585.30V878.2H1587.70V879.2H1590.10V878.2H1592.50V878.7H1594.90V879.7H1597.30V878.7H1599.70V876.7H1602.10V875.7H1604.50V871.7H1606.90V869.7H1609.30V870.2H1614.10V873.2H1618.90V874.7H1621.30V876.7H1623.70V879.7H1626.10V878.7H1628.50V878.2H1630.90V877.2H1633.30V878.7H1638.10V877.7H1640.50V876.2H1642.90V877.2H1645.30V878.2H1647.70V878.7H1652.50V876.7H1654.90V873.7H1657.30V872.2H1659.70V860.7H1662.10V840.7H1664.50V838.7H1666.90V845.2H1669.30V855.7H1671.70V857.2H1674.10V864.2H1676.50V868.2H1678.90V870.7H1683.70V872.2H1686.10V871.2H1688.50V869.7H1690.90V872.7H1693.30V874.7H1695.70V873.7H1698.10V872.7H1700.50V875.2H1702.90V876.2H1705.30V878.7H1707.70V879.2H1712.50V877.7H1722.10V878.7H1726.90V879.7H1729.30V879.2H1731.70V876.2H1734.10V875.7H1736.50V875.2H1738.90V877.2H1741.30V875.2H1743.70V874.7H1746.10V876.2H1748.50V872.7H1750.90V873.2H1755.70V874.2H1758.10V877.2H1762.90V878.2H1765.30V878.7H1767.70V877.7H1770.10V875.2H1774.90V872.7H1777.30V873.7H1782.10V874.2H1784.50V876.7H1786.90V875.2H1789.30V872.7H1794.10V874.7H1796.50V877.7H1798.90V875.7H1801.30V873.7H1806.10V874.2H1808.50V873.2H1810.90V872.7H1813.30V877.7H1815.70V878.7H1818.10V878.2H1820.50V873.7H1822.90V868.7H1825.30V866.7H1827.70V864.2H1830.10V870.2H1832.50V874.2H1834.90V874.7H1837.30V876.2H1839.70V878.7H1842.10V876.2H1844.50V873.2H1846.90V871.2H1849.30V873.7H1851.70V876.7H1854.10V878.2H1856.50V879.2H1861.30V879.7H1863.70V879.2H1866.10V878.2H1868.50V878.7H1870.90V878.2H1873.30V878.7H1875.70V876.2H1878.10V875.7H1880.50V870.7H1882.90V866.2H1885.30V864.2H1887.70V845.7H1890.10V829.2H1894.90V854.7H1897.30V869.2H1899.70V874.7H1902.10V878.7H1904.50V876.2H1906.90V874.7H1909.30V875.2H1911.70V876.7H1914.10V876.2H1916.50V878.2H1921.30V879.2H1926.10V878.2H1928.50V877.7H1930.90V879.2H1933.30V878.7H1935.70V879.2H1938.10V878.7H1940.50V878.2H1945.30V878.7H1950.10V879.7H1962.10V879.2H1964.50V879.7H1971.70V876.7H1974.10V874.2H1976.50V876.2H1978.90V877.7H1981.30V877.2H1983.70V875.7H1988.50V875.2H1990.90V870.7H1993.30V866.7H1995.70V869.2H1998.10V873.2H2000.50V874.7H2002.90V871.7H2005.30V867.2H2007.70V859.2H2010.10V860.2H2012.50V869.2H2014.90V874.7H2017.30V877.7H2019.70V878.7H2022.10V879.7H2026.90V876.2H2029.30V877.2H2031.70V875.2H2034.10V876.7H2036.50V873.7H2038.90V875.2H2041.30V874.7H2043.70V875.7H2046.10V875.2H2048.50V874.2H2050.90V871.7H2053.30V872.2H2055.70V870.7H2058.10V869.2H2060.50V870.2H2062.90V868.2H2065.30V871.2H2067.70V872.7H2070.10V876.2H2072.50V879.7H2074.90V881.20Z" fill="#1ca776"/>
<rect x="670.90" y="829.20" width="9.60" height="3.40" fill="#b2539f"/>
<rect x="966.10" y="829.20" width="9.60" height="3.40" fill="#b2539f"/>
<rect x="1890.10" y="829.20" width="4.80" height="3.40" fill="#b2539f"/>
<path d="M253.30 948.20V942.7H255.70V943.7H260.50V945.7H265.30V943.7H267.70V939.2H270.10V937.2H272.50V935.7H274.90V937.2H277.30V939.2H279.70V942.7H282.10V944.2H284.50V943.2H286.90V940.7H289.30V935.7H291.70V935.2H294.10V936.7H296.50V940.7H298.90V945.7H301.30V944.2H303.70V941.7H306.10V940.7H308.50V940.2H313.30V942.7H320.50V943.2H322.90V944.2H325.30V943.2H327.70V944.2H330.10V942.2H334.90V943.2H337.30V944.2H339.70V943.7H342.10V944.7H344.50V943.7H346.90V942.7H351.70V942.2H354.10V941.7H358.90V942.2H363.70V940.7H366.10V942.7H368.50V943.2H373.30V944.7H380.50V944.2H382.90V943.7H385.30V945.7H387.70V943.2H390.10V942.7H392.50V941.2H394.90V941.7H397.30V942.2H399.70V941.7H402.10V940.7H404.50V940.2H406.90V941.2H409.30V943.7H411.70V944.2H418.90V945.7H421.30V946.2H423.70V944.2H426.10V941.7H428.50V940.7H430.90V943.7H433.30V944.2H435.70V945.7H438.10V944.7H440.50V944.2H442.90V943.7H445.30V946.2H447.70V945.7H450.10V944.7H452.50V942.7H454.90V943.2H457.30V941.7H462.10V940.7H464.50V943.2H466.90V943.7H469.30V943.2H471.70V944.7H474.10V941.7H476.50V940.2H478.90V943.2H481.30V946.7H483.70V946.2H486.10V945.7H488.50V944.7H490.90V946.7H493.30V945.7H498.10V943.2H500.50V944.7H502.90V945.7H507.70V945.2H510.10V942.7H512.50V940.2H514.90V941.2H517.30V941.7H519.70V939.7H522.10V939.2H524.50V938.2H526.90V942.7H529.30V943.2H531.70V942.2H534.10V941.7H536.50V941.2H538.90V943.7H541.30V944.7H543.70V945.2H546.10V945.7H548.50V945.2H550.90V944.7H553.30V942.7H558.10V943.2H560.50V944.7H562.90V943.2H565.30V942.2H567.70V940.7H570.10V938.7H572.50V935.2H574.90V938.7H577.30V942.7H582.10V944.7H584.50V943.7H586.90V943.2H589.30V938.2H594.10V940.2H596.50V942.7H598.90V943.2H601.30V942.2H603.70V942.7H606.10V941.7H608.50V940.7H610.90V940.2H613.30V940.7H615.70V939.2H618.10V937.2H620.50V936.2H622.90V936.7H625.30V939.7H627.70V942.2H630.10V943.7H632.50V945.7H634.90V946.2H642.10V942.7H644.50V942.2H646.90V943.2H649.30V944.2H651.70V941.2H654.10V942.7H656.50V938.7H658.90V939.2H663.70V930.2H666.10V913.2H668.50V896.2H685.30V916.7H687.70V932.7H690.10V937.7H692.50V941.2H694.90V943.7H697.30V943.2H699.70V945.2H702.10V940.7H704.50V942.2H706.90V940.2H709.30V940.7H711.70V941.2H716.50V940.2H718.90V942.2H721.30V940.7H723.70V941.7H726.10V940.2H728.50V940.7H730.90V942.2H735.70V943.2H738.10V942.7H740.50V940.2H745.30V940.7H747.70V942.7H750.10V945.2H752.50V944.7H754.90V941.2H757.30V939.7H759.70V940.7H762.10V939.7H764.50V941.7H766.90V945.2H774.10V943.7H776.50V944.7H778.90V944.2H781.30V943.7H783.70V942.2H786.10V944.2H788.50V944.7H790.90V943.7H793.30V944.7H795.70V945.2H798.10V944.2H800.50V940.2H802.90V940.7H805.30V945.7H810.10V946.7H812.50V945.7H814.90V942.2H817.30V940.7H819.70V936.2H822.10V933.7H824.50V929.7H826.90V933.7H829.30V937.7H831.70V939.2H834.10V941.7H836.50V942.7H838.90V943.2H841.30V945.2H843.70V945.7H846.10V942.7H848.50V941.2H855.70V944.2H858.10V946.2H862.90V944.2H867.70V942.2H870.10V940.2H874.90V941.2H879.70V939.2H882.10V933.2H884.50V930.2H886.90V926.7H891.70V915.7H894.10V908.7H896.50V919.7H898.90V932.2H903.70V930.7H906.10V935.2H908.50V938.7H910.90V944.2H913.30V945.2H915.70V944.7H918.10V940.2H920.50V937.2H922.90V935.7H925.30V938.2H927.70V938.7H930.10V940.2H932.50V941.2H934.90V939.2H937.30V934.2H939.70V936.2H942.10V941.2H944.50V939.7H946.90V940.7H951.70V941.2H954.10V940.7H956.50V937.2H958.90V931.2H961.30V916.2H963.70V902.2H966.10V896.2H982.90V908.2H985.30V929.2H987.70V930.7H990.10V934.7H992.50V935.2H994.90V934.2H997.30V934.7H1002.10V939.2H1004.50V940.7H1006.90V941.7H1014.10V942.7H1016.50V944.7H1018.90V942.2H1021.30V941.7H1023.70V940.2H1026.10V939.2H1028.50V940.2H1030.90V942.2H1033.30V944.2H1035.70V945.7H1038.10V944.2H1040.50V942.2H1042.90V941.2H1045.30V942.2H1047.70V943.7H1050.10V943.2H1052.50V943.7H1054.90V941.7H1057.30V943.2H1059.70V943.7H1062.10V944.2H1064.50V943.7H1066.90V943.2H1069.30V942.7H1071.70V939.7H1074.10V940.7H1076.50V943.7H1078.90V945.2H1081.30V944.7H1083.70V945.7H1086.10V945.2H1088.50V944.7H1090.90V942.2H1093.30V941.7H1095.70V941.2H1098.10V942.2H1100.50V941.2H1102.90V941.7H1105.30V942.7H1107.70V945.2H1110.10V944.7H1114.90V944.2H1117.30V946.2H1119.70V945.7H1122.10V945.2H1126.90V944.7H1129.30V945.7H1131.70V946.2H1134.10V945.7H1136.50V945.2H1138.90V943.7H1141.30V941.2H1143.70V939.7H1146.10V938.2H1148.50V934.2H1150.90V933.2H1153.30V928.2H1155.70V925.7H1158.10V924.2H1160.50V925.2H1162.90V928.7H1165.30V934.7H1167.70V938.2H1170.10V940.2H1172.50V940.7H1174.90V941.7H1177.30V943.7H1179.70V945.2H1182.10V946.7H1184.50V946.2H1186.90V945.2H1189.30V944.7H1191.70V942.2H1194.10V937.2H1196.50V935.2H1198.90V933.2H1201.30V931.2H1203.70V929.2H1206.10V930.2H1208.50V931.7H1210.90V934.7H1213.30V936.2H1215.70V923.2H1218.10V908.7H1220.50V898.2H1222.90V902.7H1225.30V914.7H1227.70V920.7H1230.10V929.2H1232.50V938.2H1234.90V939.2H1237.30V938.7H1242.10V940.2H1244.50V939.7H1246.90V940.2H1249.30V941.2H1254.10V942.2H1258.90V940.7H1261.30V941.7H1263.70V942.7H1266.10V944.2H1268.50V943.2H1270.90V942.2H1273.30V944.2H1275.70V943.2H1280.50V944.2H1282.90V943.7H1285.30V941.7H1287.70V943.7H1290.10V943.2H1292.50V945.2H1294.90V946.2H1297.30V945.7H1299.70V946.2H1304.50V945.7H1306.90V943.7H1314.10V944.2H1318.90V944.7H1321.30V945.2H1328.50V945.7H1330.90V943.7H1333.30V943.2H1335.70V941.2H1338.10V939.7H1340.50V941.7H1342.90V943.2H1345.30V942.7H1347.70V940.2H1350.10V939.7H1352.50V937.7H1354.90V934.7H1357.30V931.2H1359.70V936.2H1362.10V938.7H1364.50V941.2H1366.90V940.2H1369.30V942.2H1371.70V943.2H1374.10V943.7H1376.50V942.2H1378.90V944.2H1381.30V942.2H1383.70V942.7H1386.10V941.7H1388.50V940.2H1390.90V941.2H1393.30V941.7H1395.70V943.7H1400.50V942.2H1402.90V942.7H1405.30V940.7H1407.70V937.2H1410.10V934.7H1412.50V932.2H1414.90V931.2H1417.30V927.7H1419.70V927.2H1422.10V931.7H1424.50V928.2H1426.90V927.2H1431.70V924.7H1434.10V921.2H1436.50V913.2H1438.90V906.7H1441.30V909.2H1443.70V917.7H1446.10V934.2H1448.50V939.2H1453.30V942.7H1455.70V941.7H1458.10V943.2H1460.50V941.7H1462.90V941.2H1465.30V939.2H1467.70V941.7H1470.10V940.7H1472.50V943.7H1474.90V941.7H1477.30V944.2H1479.70V944.7H1484.50V942.7H1486.90V943.2H1489.30V941.7H1496.50V942.7H1498.90V941.7H1501.30V939.2H1503.70V939.7H1506.10V937.7H1508.50V937.2H1510.90V941.2H1515.70V944.2H1520.50V943.2H1522.90V942.2H1525.30V943.2H1527.70V940.2H1530.10V940.7H1532.50V937.7H1537.30V936.7H1539.70V937.7H1542.10V936.2H1546.90V935.2H1549.30V934.7H1551.70V932.2H1554.10V936.2H1556.50V939.7H1558.90V938.7H1561.30V940.2H1563.70V937.7H1566.10V934.2H1568.50V933.7H1570.90V937.2H1573.30V939.2H1575.70V940.2H1578.10V935.7H1580.50V938.7H1582.90V941.7H1585.30V942.7H1587.70V945.7H1594.90V945.2H1597.30V944.2H1599.70V942.2H1602.10V940.2H1604.50V936.7H1606.90V934.2H1609.30V935.2H1611.70V939.7H1614.10V941.2H1616.50V941.7H1621.30V941.2H1623.70V941.7H1626.10V938.7H1630.90V940.2H1633.30V941.7H1635.70V942.2H1638.10V944.7H1642.90V942.2H1645.30V942.7H1647.70V941.2H1650.10V939.7H1652.50V940.2H1654.90V941.7H1657.30V932.2H1659.70V918.2H1662.10V896.2H1666.90V905.2H1669.30V914.2H1671.70V911.7H1674.10V923.2H1676.50V933.7H1678.90V935.2H1681.30V933.2H1683.70V934.7H1686.10V937.7H1688.50V940.7H1690.90V941.2H1693.30V939.7H1695.70V941.2H1698.10V943.2H1700.50V944.2H1702.90V943.7H1705.30V938.7H1707.70V935.7H1710.10V939.7H1712.50V938.7H1714.90V940.7H1717.30V944.7H1719.70V944.2H1724.50V944.7H1726.90V945.2H1729.30V946.7H1731.70V946.2H1734.10V944.2H1736.50V945.2H1738.90V944.2H1741.30V941.2H1743.70V938.7H1746.10V936.7H1748.50V936.2H1750.90V934.7H1753.30V934.2H1755.70V935.7H1758.10V937.7H1760.50V939.7H1762.90V938.7H1765.30V939.2H1767.70V940.7H1774.90V941.7H1777.30V943.2H1779.70V944.2H1782.10V944.7H1784.50V943.2H1786.90V944.2H1789.30V942.2H1791.70V943.2H1794.10V941.7H1798.90V937.2H1801.30V936.2H1803.70V938.2H1806.10V939.7H1808.50V942.7H1810.90V944.7H1813.30V941.2H1815.70V939.7H1818.10V937.7H1820.50V934.7H1822.90V933.7H1825.30V932.2H1827.70V929.2H1830.10V931.2H1832.50V939.7H1834.90V940.2H1837.30V941.2H1839.70V940.7H1842.10V941.7H1844.50V942.2H1846.90V943.7H1851.70V942.2H1854.10V939.2H1856.50V940.2H1858.90V942.2H1861.30V943.7H1863.70V940.7H1868.50V939.7H1870.90V940.7H1873.30V944.7H1875.70V942.2H1878.10V939.2H1880.50V935.2H1882.90V932.2H1885.30V923.2H1887.70V896.2H1894.90V911.7H1897.30V931.7H1899.70V937.7H1902.10V941.7H1904.50V943.2H1906.90V944.2H1909.30V944.7H1911.70V943.2H1914.10V941.2H1921.30V941.7H1923.70V943.2H1928.50V945.2H1930.90V944.2H1933.30V944.7H1938.10V944.2H1940.50V946.2H1945.30V946.7H1947.70V945.7H1950.10V946.2H1952.50V946.7H1957.30V946.2H1959.70V946.7H1962.10V945.7H1964.50V945.2H1966.90V945.7H1971.70V946.7H1974.10V945.7H1978.90V946.2H1983.70V945.7H1990.90V945.2H1993.30V945.7H1995.70V946.2H1998.10V945.7H2002.90V940.7H2005.30V932.7H2007.70V923.7H2010.10V923.2H2012.50V935.7H2014.90V942.2H2017.30V944.7H2019.70V945.2H2022.10V945.7H2026.90V946.2H2031.70V945.7H2034.10V943.2H2036.50V940.2H2038.90V940.7H2043.70V944.2H2046.10V945.2H2048.50V942.7H2050.90V943.2H2053.30V943.7H2055.70V941.2H2058.10V944.2H2062.90V942.2H2065.30V944.7H2067.70V942.7H2070.10V943.2H2072.50V946.7H2074.90V948.20Z" fill="#1ca776"/>
<rect x="668.50" y="896.20" width="16.80" height="3.40" fill="#b2539f"/>
<rect x="966.10" y="896.20" width="16.80" height="3.40" fill="#b2539f"/>
<rect x="1662.10" y="896.20" width="4.80" height="3.40" fill="#b2539f"/>
<rect x="1887.70" y="896.20" width="7.20" height="3.40" fill="#b2539f"/>
<path d="M253.30 1010.80V997.3H255.70V999.8H260.50V998.8H262.90V998.3H265.30V997.8H267.70V1000.8H270.10V998.8H272.50V996.3H274.90V998.8H279.70V1001.3H282.10V1000.3H284.50V1001.3H286.90V999.3H289.30V996.3H291.70V997.8H294.10V1000.3H296.50V1000.8H298.90V998.3H301.30V997.3H303.70V998.3H306.10V997.8H308.50V1000.8H313.30V1002.8H318.10V997.8H320.50V995.3H322.90V993.3H325.30V991.3H327.70V992.8H330.10V997.3H332.50V998.8H334.90V1002.3H337.30V1002.8H339.70V1004.8H342.10V1003.8H344.50V1005.8H346.90V1006.3H349.30V1005.8H351.70V1005.3H354.10V1002.3H356.50V1001.3H358.90V1000.3H361.30V998.8H363.70V997.8H366.10V995.8H368.50V994.3H370.90V993.8H373.30V996.8H375.70V998.3H378.10V1000.8H380.50V1002.3H382.90V1001.3H387.70V1000.8H390.10V1002.3H394.90V1007.3H397.30V1006.3H399.70V1005.3H402.10V1007.8H404.50V1005.8H406.90V1007.8H409.30V1007.3H411.70V1006.8H414.10V1005.3H416.50V1004.8H418.90V1002.8H421.30V1004.8H423.70V1003.8H426.10V1003.3H428.50V1004.3H430.90V1006.8H433.30V1006.3H438.10V1006.8H440.50V1008.8H445.30V1008.3H447.70V1006.8H450.10V1008.3H452.50V1005.3H454.90V1006.8H457.30V1005.8H459.70V1004.3H462.10V1002.3H466.90V1000.3H469.30V1002.8H471.70V1004.8H474.10V1006.8H476.50V1007.3H478.90V1006.8H481.30V1005.8H483.70V1004.3H486.10V1003.3H488.50V1005.8H490.90V1006.3H493.30V1003.8H495.70V1005.3H500.50V1004.8H502.90V1002.8H507.70V1004.8H510.10V1005.3H512.50V1006.3H514.90V1004.3H517.30V1006.3H519.70V1004.8H522.10V1003.8H524.50V1005.3H526.90V1003.3H529.30V1001.8H531.70V1003.3H534.10V1005.3H536.50V1008.8H538.90V1009.3H543.70V1006.8H546.10V1006.3H548.50V1004.8H550.90V1003.8H553.30V1004.8H555.70V1005.3H558.10V1007.3H562.90V1005.8H567.70V1004.8H570.10V1003.8H572.50V1005.3H574.90V1004.8H577.30V1003.8H582.10V1004.3H584.50V1003.8H586.90V1004.3H589.30V1005.8H594.10V1005.3H596.50V1004.3H598.90V1005.3H601.30V1004.8H603.70V1005.3H610.90V1003.8H613.30V1003.3H615.70V1001.3H618.10V1001.8H620.50V1002.8H622.90V1003.8H625.30V1005.3H627.70V1006.8H630.10V1005.8H632.50V1007.8H634.90V1006.8H637.30V1006.3H639.70V1003.3H642.10V1004.8H649.30V1003.3H651.70V1002.8H654.10V1001.8H656.50V1002.8H658.90V1000.8H661.30V995.8H663.70V994.8H666.10V992.3H668.50V973.3H670.90V959.5H678.10V984.3H680.50V985.8H682.90V987.3H685.30V993.3H687.70V1001.3H690.10V998.8H692.50V996.8H694.90V997.8H697.30V999.8H699.70V1000.3H706.90V1002.8H709.30V1005.3H711.70V1003.8H714.10V1004.3H716.50V1002.8H718.90V1003.8H723.70V1003.3H728.50V1000.3H730.90V998.8H733.30V998.3H735.70V998.8H738.10V1002.8H740.50V1008.3H742.90V1007.8H745.30V1007.3H747.70V1005.8H750.10V1001.8H752.50V1002.3H754.90V1004.3H757.30V1004.8H762.10V1005.3H766.90V1006.3H771.70V1007.8H774.10V1008.3H776.50V1006.8H778.90V1006.3H781.30V1002.8H783.70V1004.3H786.10V1003.3H788.50V1004.3H790.90V1003.8H793.30V1003.3H795.70V1000.3H798.10V1001.3H800.50V1003.8H802.90V1004.3H805.30V1007.3H812.50V1005.8H814.90V1003.8H819.70V1002.3H822.10V997.8H824.50V995.8H826.90V996.8H829.30V1001.8H831.70V1006.3H834.10V1006.8H836.50V1006.3H841.30V1006.8H846.10V1005.3H848.50V1007.8H853.30V1007.3H855.70V1007.8H858.10V1008.3H860.50V1007.8H862.90V1007.3H865.30V1007.8H870.10V1005.8H872.50V1003.8H874.90V1000.8H877.30V1001.3H879.70V998.8H882.10V997.3H886.90V997.8H889.30V995.3H891.70V992.8H894.10V988.8H896.50V987.3H898.90V981.8H901.30V979.8H903.70V983.3H906.10V986.8H908.50V997.3H910.90V1002.8H913.30V1003.8H918.10V1003.3H920.50V1005.8H922.90V1006.8H925.30V1004.3H927.70V1005.3H930.10V1004.8H932.50V1006.8H934.90V1008.3H942.10V1006.3H944.50V1004.8H946.90V1001.3H949.30V1002.3H951.70V1002.8H954.10V1001.3H956.50V997.8H958.90V996.8H961.30V988.8H963.70V976.3H966.10V959.5H982.90V977.8H985.30V994.8H990.10V995.3H992.50V995.8H994.90V994.8H999.70V997.3H1002.10V1000.3H1004.50V1001.3H1006.90V1004.3H1009.30V1003.3H1011.70V1002.8H1014.10V1003.8H1016.50V1005.8H1018.90V1003.8H1021.30V1004.8H1023.70V1004.3H1026.10V1003.8H1028.50V1004.3H1030.90V1003.3H1033.30V1001.3H1038.10V1000.8H1040.50V999.3H1042.90V995.8H1047.70V997.8H1050.10V1003.3H1052.50V1003.8H1054.90V1005.3H1057.30V1006.3H1059.70V1006.8H1062.10V1005.8H1064.50V1005.3H1066.90V1007.3H1069.30V1006.3H1071.70V1005.8H1074.10V1004.8H1076.50V1005.3H1078.90V1006.3H1081.30V1006.8H1083.70V1007.8H1086.10V1009.3H1088.50V1008.8H1090.90V1006.8H1093.30V1006.3H1095.70V1006.8H1098.10V1009.3H1100.50V1008.3H1102.90V1007.3H1105.30V1005.8H1107.70V1006.3H1110.10V1007.8H1112.50V1006.3H1114.90V1008.8H1122.10V1008.3H1124.50V1008.8H1126.90V1008.3H1129.30V1007.3H1131.70V1008.3H1134.10V1006.3H1136.50V1006.8H1138.90V1007.3H1141.30V1003.8H1143.70V1004.8H1146.10V1003.8H1148.50V999.8H1150.90V994.8H1153.30V988.3H1155.70V981.8H1158.10V979.8H1160.50V982.8H1162.90V989.8H1165.30V994.3H1167.70V994.8H1170.10V998.3H1172.50V1000.8H1174.90V999.3H1177.30V1001.8H1179.70V1003.3H1182.10V1000.8H1184.50V1001.8H1186.90V1000.3H1189.30V1002.8H1191.70V1002.3H1194.10V1002.8H1196.50V1000.8H1198.90V1000.3H1201.30V998.3H1203.70V998.8H1206.10V999.3H1208.50V1001.3H1210.90V1002.8H1213.30V1000.8H1215.70V992.8H1218.10V980.3H1220.50V975.8H1222.90V983.3H1225.30V988.3H1227.70V995.3H1230.10V998.8H1232.50V1003.3H1234.90V1004.3H1237.30V1001.3H1239.70V1002.8H1244.50V1006.3H1246.90V1006.8H1249.30V1005.3H1251.70V1007.3H1254.10V1005.3H1256.50V1006.3H1258.90V1005.8H1263.70V1006.8H1266.10V1007.8H1268.50V1007.3H1270.90V1005.3H1273.30V1005.8H1275.70V1006.3H1278.10V1008.8H1280.50V1007.8H1285.30V1008.3H1287.70V1008.8H1299.70V1007.8H1302.10V1008.3H1304.50V1008.8H1309.30V1005.3H1314.10V1004.3H1321.30V1005.8H1323.70V1006.8H1326.10V1007.3H1328.50V1005.8H1330.90V1006.3H1333.30V1005.3H1335.70V1007.3H1338.10V1006.8H1340.50V1007.3H1342.90V1006.3H1345.30V1005.3H1347.70V1006.3H1350.10V1007.8H1352.50V1008.8H1354.90V1003.8H1357.30V1000.8H1359.70V1001.8H1362.10V1003.8H1366.90V1002.3H1369.30V1003.3H1371.70V1002.3H1376.50V1005.3H1386.10V1007.3H1388.50V1004.8H1390.90V1005.8H1393.30V1004.3H1400.50V1003.8H1402.90V1001.8H1405.30V1003.8H1407.70V1002.8H1412.50V1000.3H1414.90V997.8H1417.30V997.3H1419.70V996.3H1422.10V995.8H1424.50V994.3H1426.90V995.3H1429.30V997.3H1431.70V996.3H1436.50V978.8H1438.90V959.5H1443.70V967.8H1446.10V987.8H1448.50V994.8H1450.90V995.3H1453.30V996.8H1455.70V997.8H1458.10V999.3H1460.50V998.8H1462.90V1000.8H1465.30V1004.8H1467.70V1003.8H1470.10V1006.3H1472.50V1005.3H1474.90V1003.3H1477.30V1004.3H1479.70V1003.3H1482.10V1000.3H1484.50V998.3H1486.90V1001.3H1489.30V1005.3H1494.10V1001.8H1496.50V999.3H1498.90V1001.3H1501.30V1002.3H1503.70V1005.8H1508.50V1007.8H1513.30V1008.3H1515.70V1007.8H1518.10V1006.3H1520.50V1005.8H1522.90V1005.3H1525.30V1004.3H1527.70V1000.3H1530.10V1000.8H1532.50V998.3H1534.90V1000.3H1537.30V999.3H1542.10V997.3H1544.50V994.3H1546.90V991.3H1549.30V992.3H1551.70V1001.3H1554.10V999.3H1556.50V1000.3H1558.90V1001.3H1561.30V1000.8H1563.70V1001.8H1566.10V1001.3H1568.50V1001.8H1570.90V1001.3H1575.70V1001.8H1578.10V1004.8H1580.50V1005.3H1582.90V1004.8H1585.30V1006.8H1587.70V1008.3H1590.10V1007.3H1592.50V1006.8H1594.90V1004.3H1599.70V1005.3H1602.10V1005.8H1606.90V1005.3H1609.30V1005.8H1611.70V1004.3H1614.10V1003.8H1616.50V1005.3H1618.90V1005.8H1621.30V1004.3H1623.70V1005.8H1628.50V1005.3H1630.90V1004.8H1633.30V1005.3H1635.70V1003.8H1640.50V1002.8H1642.90V1003.8H1645.30V1002.8H1647.70V1003.8H1650.10V1003.3H1652.50V1003.8H1654.90V1003.3H1657.30V995.8H1659.70V977.3H1662.10V959.5H1666.90V963.8H1669.30V975.3H1671.70V980.3H1674.10V988.8H1676.50V992.8H1678.90V998.8H1681.30V1003.3H1683.70V1004.8H1686.10V1003.3H1688.50V1002.3H1690.90V1003.8H1693.30V1005.8H1695.70V1007.3H1700.50V1008.8H1702.90V1009.3H1705.30V1008.8H1707.70V1008.3H1710.10V1006.8H1712.50V1004.3H1714.90V1003.8H1717.30V1004.3H1719.70V1005.3H1724.50V1006.3H1726.90V1006.8H1729.30V1007.8H1731.70V1006.8H1736.50V1007.8H1738.90V1008.3H1741.30V1005.8H1743.70V1005.3H1746.10V1002.8H1748.50V1003.8H1750.90V1001.3H1753.30V1000.3H1755.70V1002.8H1758.10V1003.8H1762.90V1005.3H1770.10V1004.8H1772.50V1003.8H1774.90V1002.8H1777.30V999.8H1782.10V1002.3H1784.50V1001.3H1786.90V1000.8H1791.70V998.3H1794.10V1000.8H1796.50V999.3H1798.90V999.8H1801.30V998.8H1803.70V999.8H1806.10V1001.3H1808.50V1003.8H1810.90V1004.8H1813.30V1002.3H1815.70V998.3H1818.10V991.8H1822.90V988.3H1825.30V979.3H1827.70V974.8H1830.10V984.8H1832.50V999.3H1834.90V1003.8H1837.30V1004.8H1839.70V1005.3H1842.10V1002.3H1844.50V1000.3H1846.90V1002.8H1849.30V1005.3H1851.70V1006.8H1854.10V1005.3H1856.50V1004.8H1858.90V1006.8H1861.30V1005.8H1863.70V1007.8H1866.10V1007.3H1868.50V1006.3H1873.30V1005.3H1875.70V1005.8H1878.10V1004.8H1880.50V999.3H1882.90V994.3H1885.30V991.8H1887.70V968.8H1890.10V959.5H1894.90V970.3H1897.30V998.3H1899.70V1003.3H1902.10V1007.3H1906.90V1006.3H1909.30V1006.8H1911.70V1004.3H1918.90V1005.3H1921.30V1005.8H1923.70V1006.3H1928.50V1006.8H1930.90V1005.8H1933.30V1004.8H1935.70V1005.3H1938.10V1005.8H1945.30V1005.3H1952.50V1006.3H1954.90V1007.8H1957.30V1005.3H1959.70V1005.8H1962.10V1003.8H1964.50V1004.8H1966.90V1002.8H1969.30V1003.3H1971.70V1002.8H1974.10V1003.3H1976.50V1003.8H1981.30V1004.8H1983.70V1005.3H1986.10V1006.8H1990.90V1006.3H1993.30V1008.3H1995.70V1006.3H1998.10V1007.8H2000.50V1006.3H2002.90V1004.3H2005.30V997.8H2007.70V993.8H2010.10V991.3H2012.50V993.8H2014.90V997.3H2017.30V1001.8H2019.70V1004.8H2022.10V1006.8H2024.50V1005.8H2026.90V1006.3H2029.30V1006.8H2031.70V1008.3H2038.90V1007.3H2041.30V1006.8H2043.70V1005.8H2046.10V1005.3H2048.50V1007.3H2050.90V1006.3H2053.30V1004.8H2055.70V1005.3H2058.10V1004.8H2060.50V1003.3H2065.30V1003.8H2067.70V1005.3H2070.10V1007.3H2072.50V1009.3H2074.90V1010.80Z" fill="#872c62"/>
<rect x="670.90" y="959.50" width="7.20" height="3.40" fill="#b14c9c"/>
<rect x="966.10" y="959.50" width="16.80" height="3.40" fill="#b14c9c"/>
<rect x="1438.90" y="959.50" width="4.80" height="3.40" fill="#b14c9c"/>
<rect x="1662.10" y="959.50" width="4.80" height="3.40" fill="#b14c9c"/>
<rect x="1890.10" y="959.50" width="4.80" height="3.40" fill="#b14c9c"/>
<path d="M253.30 1073.80V1064.3H255.70V1065.8H258.10V1066.8H260.50V1065.3H262.90V1062.3H265.30V1060.8H267.70V1062.3H270.10V1061.3H274.90V1059.8H277.30V1060.8H279.70V1059.3H282.10V1059.8H284.50V1061.8H286.90V1066.3H289.30V1065.3H294.10V1064.3H296.50V1065.3H298.90V1067.3H301.30V1065.8H303.70V1066.8H306.10V1066.3H308.50V1067.8H313.30V1065.3H318.10V1066.8H320.50V1069.3H325.30V1068.3H327.70V1069.3H330.10V1067.3H332.50V1068.3H334.90V1069.3H337.30V1068.8H339.70V1069.8H342.10V1069.3H346.90V1070.3H349.30V1069.3H354.10V1068.8H356.50V1065.8H358.90V1069.8H361.30V1067.3H363.70V1065.3H366.10V1066.3H368.50V1065.8H370.90V1066.8H373.30V1066.3H375.70V1068.3H378.10V1069.3H380.50V1068.3H382.90V1068.8H385.30V1068.3H387.70V1067.8H390.10V1068.3H394.90V1066.8H397.30V1068.3H399.70V1070.8H402.10V1069.8H404.50V1071.3H406.90V1069.3H409.30V1067.3H414.10V1068.3H416.50V1068.8H418.90V1069.3H421.30V1070.3H423.70V1067.8H426.10V1070.3H428.50V1069.8H430.90V1072.3H435.70V1069.3H438.10V1067.8H440.50V1064.8H445.30V1067.8H447.70V1068.8H450.10V1070.8H452.50V1068.3H454.90V1067.3H457.30V1067.8H459.70V1068.8H464.50V1066.8H466.90V1066.3H469.30V1065.3H471.70V1068.8H474.10V1069.3H476.50V1068.8H478.90V1070.8H481.30V1071.3H483.70V1070.8H486.10V1068.3H488.50V1068.8H493.30V1069.3H495.70V1068.8H498.10V1070.3H500.50V1069.8H502.90V1067.8H505.30V1068.3H507.70V1068.8H510.10V1067.8H512.50V1067.3H517.30V1065.3H519.70V1062.8H522.10V1061.3H524.50V1065.3H526.90V1066.3H531.70V1066.8H534.10V1068.8H536.50V1069.3H538.90V1070.8H541.30V1070.3H543.70V1069.3H546.10V1067.8H548.50V1066.3H550.90V1066.8H553.30V1067.3H555.70V1065.8H558.10V1066.8H560.50V1067.3H562.90V1065.8H565.30V1068.8H570.10V1070.3H572.50V1069.3H577.30V1070.3H579.70V1069.3H582.10V1066.3H584.50V1067.3H586.90V1066.3H589.30V1060.8H591.70V1058.8H594.10V1061.3H596.50V1062.8H598.90V1065.8H601.30V1067.8H603.70V1068.8H606.10V1067.8H610.90V1068.8H613.30V1067.8H615.70V1069.3H618.10V1068.8H620.50V1067.3H622.90V1068.8H625.30V1069.3H627.70V1070.3H632.50V1071.3H634.90V1070.3H637.30V1071.3H639.70V1070.3H642.10V1068.8H646.90V1071.3H651.70V1068.8H654.10V1065.3H656.50V1065.8H658.90V1062.8H661.30V1060.3H663.70V1058.3H666.10V1047.8H668.50V1028.8H670.90V1022.5H678.10V1031.8H680.50V1035.3H682.90V1044.8H685.30V1052.3H687.70V1059.3H690.10V1064.8H692.50V1063.8H694.90V1066.3H697.30V1064.8H699.70V1067.8H702.10V1065.8H704.50V1066.8H706.90V1065.3H709.30V1067.3H711.70V1068.3H714.10V1065.8H716.50V1065.3H718.90V1064.3H721.30V1067.8H728.50V1069.3H730.90V1066.8H735.70V1065.3H738.10V1064.8H740.50V1067.8H742.90V1069.8H745.30V1068.3H750.10V1065.8H752.50V1063.8H754.90V1062.3H757.30V1063.8H759.70V1065.8H762.10V1067.8H764.50V1071.3H766.90V1069.8H769.30V1070.3H771.70V1069.3H774.10V1068.3H776.50V1066.8H783.70V1065.8H786.10V1065.3H790.90V1068.3H793.30V1069.8H800.50V1068.3H802.90V1067.8H805.30V1068.8H807.70V1070.3H812.50V1070.8H814.90V1070.3H819.70V1067.3H822.10V1066.3H824.50V1064.3H826.90V1063.8H829.30V1066.8H831.70V1069.8H834.10V1070.8H836.50V1070.3H838.90V1069.8H841.30V1071.3H843.70V1070.8H848.50V1071.3H853.30V1071.8H855.70V1071.3H858.10V1069.3H860.50V1069.8H862.90V1068.3H867.70V1066.3H870.10V1064.8H872.50V1065.3H874.90V1064.3H879.70V1065.8H882.10V1063.8H884.50V1061.3H886.90V1061.8H891.70V1055.8H894.10V1056.3H896.50V1051.8H898.90V1042.3H901.30V1033.8H903.70V1028.8H906.10V1036.8H908.50V1052.3H910.90V1061.8H913.30V1061.3H915.70V1064.3H918.10V1065.8H920.50V1067.3H922.90V1066.3H925.30V1065.8H927.70V1063.8H930.10V1066.3H932.50V1064.8H934.90V1063.8H937.30V1060.8H939.70V1062.8H942.10V1066.8H946.90V1065.3H949.30V1064.3H951.70V1065.8H954.10V1063.3H956.50V1062.3H958.90V1056.3H961.30V1045.3H963.70V1027.3H966.10V1022.5H982.90V1035.8H985.30V1055.8H987.70V1057.3H990.10V1062.8H992.50V1063.8H994.90V1067.3H999.70V1068.3H1002.10V1069.3H1004.50V1069.8H1006.90V1067.8H1009.30V1069.8H1011.70V1067.8H1014.10V1068.3H1018.90V1067.8H1021.30V1068.3H1023.70V1065.8H1026.10V1066.8H1030.90V1067.3H1033.30V1066.8H1035.70V1066.3H1038.10V1065.8H1040.50V1064.8H1042.90V1061.3H1045.30V1064.3H1047.70V1065.8H1050.10V1066.8H1052.50V1068.8H1054.90V1067.8H1059.70V1068.3H1062.10V1069.3H1064.50V1068.3H1066.90V1068.8H1069.30V1066.3H1071.70V1065.8H1081.30V1065.3H1083.70V1065.8H1086.10V1068.3H1088.50V1067.3H1090.90V1066.8H1095.70V1067.8H1098.10V1068.3H1105.30V1067.8H1107.70V1068.8H1110.10V1069.8H1112.50V1069.3H1114.90V1070.8H1119.70V1071.8H1122.10V1070.8H1124.50V1071.3H1126.90V1070.3H1129.30V1070.8H1131.70V1068.3H1136.50V1067.8H1138.90V1064.8H1141.30V1064.3H1143.70V1062.3H1146.10V1060.8H1148.50V1060.3H1150.90V1051.3H1153.30V1040.8H1155.70V1033.3H1158.10V1028.3H1160.50V1030.3H1162.90V1040.8H1165.30V1051.8H1167.70V1053.3H1170.10V1057.8H1172.50V1061.3H1174.90V1063.3H1177.30V1065.8H1179.70V1064.8H1182.10V1066.3H1184.50V1064.8H1189.30V1066.3H1191.70V1060.8H1194.10V1056.3H1196.50V1054.8H1198.90V1052.8H1203.70V1053.8H1206.10V1054.8H1208.50V1058.3H1210.90V1060.3H1213.30V1054.3H1215.70V1038.3H1218.10V1023.8H1220.50V1022.5H1222.90V1034.3H1225.30V1054.3H1227.70V1058.3H1230.10V1060.8H1232.50V1065.3H1234.90V1066.3H1237.30V1065.8H1239.70V1065.3H1242.10V1066.3H1244.50V1065.3H1246.90V1066.8H1249.30V1068.3H1251.70V1067.3H1254.10V1069.8H1256.50V1067.3H1258.90V1068.8H1261.30V1070.8H1266.10V1069.8H1268.50V1070.3H1270.90V1069.3H1273.30V1069.8H1275.70V1067.8H1278.10V1068.8H1280.50V1067.3H1282.90V1069.8H1285.30V1068.8H1287.70V1069.8H1290.10V1070.8H1292.50V1071.8H1294.90V1070.3H1297.30V1069.3H1299.70V1071.3H1302.10V1070.8H1304.50V1071.8H1306.90V1068.8H1309.30V1068.3H1311.70V1068.8H1316.50V1069.3H1321.30V1068.3H1326.10V1070.3H1328.50V1068.3H1333.30V1068.8H1335.70V1068.3H1340.50V1066.8H1342.90V1065.3H1345.30V1066.3H1347.70V1065.8H1350.10V1067.8H1352.50V1068.8H1354.90V1061.8H1357.30V1060.8H1359.70V1063.3H1362.10V1064.3H1364.50V1063.8H1366.90V1065.8H1374.10V1065.3H1376.50V1065.8H1378.90V1065.3H1381.30V1066.3H1383.70V1068.3H1386.10V1067.3H1388.50V1065.3H1390.90V1066.8H1393.30V1067.3H1395.70V1069.3H1398.10V1066.8H1400.50V1065.8H1402.90V1066.8H1405.30V1064.3H1407.70V1064.8H1410.10V1063.8H1412.50V1062.3H1414.90V1058.8H1417.30V1059.8H1419.70V1059.3H1424.50V1058.3H1426.90V1055.8H1429.30V1057.3H1431.70V1058.8H1434.10V1053.3H1436.50V1028.8H1438.90V1022.5H1443.70V1028.3H1446.10V1049.8H1448.50V1056.8H1450.90V1056.3H1453.30V1057.8H1455.70V1059.8H1458.10V1061.3H1460.50V1064.3H1462.90V1066.8H1465.30V1066.3H1467.70V1069.3H1470.10V1069.8H1472.50V1066.3H1474.90V1063.8H1477.30V1064.3H1479.70V1062.8H1482.10V1063.8H1486.90V1064.3H1489.30V1064.8H1491.70V1060.8H1494.10V1057.8H1496.50V1064.8H1498.90V1067.3H1501.30V1066.3H1506.10V1067.8H1510.90V1068.8H1515.70V1069.3H1518.10V1067.8H1520.50V1065.3H1522.90V1063.8H1527.70V1062.8H1530.10V1063.3H1532.50V1060.8H1534.90V1057.8H1537.30V1053.3H1539.70V1048.8H1544.50V1050.3H1546.90V1050.8H1549.30V1054.3H1551.70V1061.8H1554.10V1062.3H1556.50V1064.3H1558.90V1065.8H1561.30V1064.8H1563.70V1064.3H1566.10V1059.8H1568.50V1060.8H1570.90V1062.8H1573.30V1064.3H1575.70V1065.3H1578.10V1067.3H1580.50V1066.8H1582.90V1067.3H1585.30V1067.8H1587.70V1069.3H1590.10V1070.3H1592.50V1069.8H1597.30V1067.3H1599.70V1063.3H1602.10V1062.3H1609.30V1063.3H1611.70V1066.8H1614.10V1068.8H1616.50V1069.3H1618.90V1067.8H1621.30V1068.8H1623.70V1067.8H1626.10V1067.3H1628.50V1066.3H1630.90V1065.3H1633.30V1065.8H1635.70V1066.3H1638.10V1067.8H1640.50V1066.3H1642.90V1067.3H1645.30V1068.3H1650.10V1067.3H1652.50V1067.8H1654.90V1063.3H1657.30V1051.3H1659.70V1029.3H1662.10V1022.5H1669.30V1034.3H1671.70V1035.8H1674.10V1041.8H1676.50V1049.3H1678.90V1055.8H1681.30V1058.3H1683.70V1060.8H1686.10V1059.3H1688.50V1061.3H1690.90V1062.3H1693.30V1065.8H1695.70V1066.8H1698.10V1068.3H1700.50V1069.8H1702.90V1067.8H1705.30V1069.8H1707.70V1069.3H1712.50V1069.8H1714.90V1070.3H1717.30V1069.3H1719.70V1067.8H1722.10V1070.3H1724.50V1068.8H1726.90V1070.3H1729.30V1071.3H1731.70V1071.8H1734.10V1071.3H1736.50V1069.8H1738.90V1067.8H1741.30V1065.3H1743.70V1057.3H1746.10V1050.8H1748.50V1051.8H1750.90V1055.3H1753.30V1053.8H1755.70V1056.3H1758.10V1064.3H1760.50V1066.3H1762.90V1066.8H1765.30V1067.8H1767.70V1068.3H1770.10V1066.3H1772.50V1065.8H1774.90V1064.8H1779.70V1064.3H1782.10V1062.3H1784.50V1066.3H1786.90V1065.8H1789.30V1067.3H1791.70V1066.8H1794.10V1066.3H1796.50V1063.8H1798.90V1064.8H1801.30V1065.8H1803.70V1065.3H1806.10V1068.8H1808.50V1069.3H1810.90V1069.8H1813.30V1064.8H1815.70V1059.8H1818.10V1054.8H1820.50V1051.8H1822.90V1049.8H1825.30V1035.3H1827.70V1022.5H1830.10V1030.8H1832.50V1048.8H1834.90V1059.8H1837.30V1062.8H1839.70V1065.8H1842.10V1066.3H1844.50V1066.8H1846.90V1067.8H1849.30V1066.8H1851.70V1065.8H1856.50V1066.8H1858.90V1066.3H1861.30V1068.3H1863.70V1068.8H1866.10V1069.8H1868.50V1067.3H1870.90V1068.3H1873.30V1066.8H1875.70V1066.3H1878.10V1065.3H1880.50V1061.8H1882.90V1055.8H1885.30V1053.8H1887.70V1031.3H1890.10V1022.5H1894.90V1037.8H1897.30V1061.3H1899.70V1066.3H1902.10V1069.8H1904.50V1068.3H1906.90V1071.3H1909.30V1070.3H1911.70V1071.3H1914.10V1071.8H1916.50V1070.3H1918.90V1069.3H1921.30V1068.3H1926.10V1070.3H1928.50V1069.3H1930.90V1068.8H1933.30V1069.3H1935.70V1068.8H1938.10V1070.8H1942.90V1069.8H1945.30V1070.3H1950.10V1069.8H1952.50V1069.3H1957.30V1069.8H1959.70V1070.3H1962.10V1070.8H1964.50V1069.8H1966.90V1070.3H1971.70V1069.3H1976.50V1068.8H1978.90V1066.3H1983.70V1067.3H1986.10V1068.8H1988.50V1070.8H1990.90V1070.3H1993.30V1070.8H1998.10V1070.3H2000.50V1068.3H2002.90V1065.8H2005.30V1055.8H2007.70V1040.3H2010.10V1038.8H2012.50V1048.8H2014.90V1065.3H2017.30V1067.8H2019.70V1068.8H2022.10V1067.3H2024.50V1068.3H2026.90V1068.8H2029.30V1069.3H2031.70V1069.8H2034.10V1069.3H2036.50V1069.8H2038.90V1069.3H2041.30V1068.8H2043.70V1069.8H2046.10V1070.8H2048.50V1070.3H2050.90V1069.8H2053.30V1067.3H2058.10V1068.8H2060.50V1067.3H2062.90V1067.8H2065.30V1069.3H2070.10V1067.3H2072.50V1069.3H2074.90V1073.80Z" fill="#872c62"/>
<rect x="670.90" y="1022.50" width="7.20" height="3.40" fill="#b14c9c"/>
<rect x="966.10" y="1022.50" width="16.80" height="3.40" fill="#b14c9c"/>
<rect x="1220.50" y="1022.50" width="2.40" height="3.40" fill="#b14c9c"/>
<rect x="1438.90" y="1022.50" width="4.80" height="3.40" fill="#b14c9c"/>
<rect x="1662.10" y="1022.50" width="7.20" height="3.40" fill="#b14c9c"/>
<rect x="1827.70" y="1022.50" width="2.40" height="3.40" fill="#b14c9c"/>
<rect x="1890.10" y="1022.50" width="4.80" height="3.40" fill="#b14c9c"/>
</g>
<line x1="296.00" y1="1097.00" x2="1213.50" y2="1097.00" stroke="#27267a" stroke-width="1.5"/>
<path d="M311.5 1091.9L305.9 1097.0L311.5 1102.1M323.7 1091.9L318.1 1097.0L323.7 1102.1M335.9 1091.9L330.3 1097.0L335.9 1102.1M345.8 1091.9L340.2 1097.0L345.8 1102.1M357.9 1091.9L352.3 1097.0L357.9 1102.1M379.9 1091.9L374.3 1097.0L379.9 1102.1M393.7 1091.9L388.1 1097.0L393.7 1102.1M405.9 1091.9L400.3 1097.0L405.9 1102.1M419.6 1091.9L414.0 1097.0L419.6 1102.1M429.7 1091.9L424.1 1097.0L429.7 1102.1M441.9 1091.9L436.3 1097.0L441.9 1102.1M454.1 1091.9L448.5 1097.0L454.1 1102.1M466.2 1091.9L460.6 1097.0L466.2 1102.1M478.4 1091.9L472.8 1097.0L478.4 1102.1M490.6 1091.9L485.0 1097.0L490.6 1102.1M502.8 1091.9L497.2 1097.0L502.8 1102.1M515.0 1091.9L509.4 1097.0L515.0 1102.1M527.1 1091.9L521.5 1097.0L527.1 1102.1M539.3 1091.9L533.7 1097.0L539.3 1102.1M558.4 1091.9L552.8 1097.0L558.4 1102.1M575.2 1091.9L569.6 1097.0L575.2 1102.1M585.2 1091.9L579.6 1097.0L585.2 1102.1M600.4 1091.9L594.8 1097.0L600.4 1102.1M612.6 1091.9L607.0 1097.0L612.6 1102.1M624.7 1091.9L619.1 1097.0L624.7 1102.1M636.9 1091.9L631.3 1097.0L636.9 1102.1M649.1 1091.9L643.5 1097.0L649.1 1102.1M661.2 1091.9L655.6 1097.0L661.2 1102.1M673.4 1091.9L667.8 1097.0L673.4 1102.1M685.6 1091.9L680.0 1097.0L685.6 1102.1M697.8 1091.9L692.2 1097.0L697.8 1102.1M717.1 1091.9L711.5 1097.0L717.1 1102.1M729.3 1091.9L723.7 1097.0L729.3 1102.1M741.5 1091.9L735.9 1097.0L741.5 1102.1M753.6 1091.9L748.0 1097.0L753.6 1102.1M765.8 1091.9L760.2 1097.0L765.8 1102.1M778.0 1091.9L772.4 1097.0L778.0 1102.1M790.2 1091.9L784.6 1097.0L790.2 1102.1M802.4 1091.9L796.8 1097.0L802.4 1102.1M814.5 1091.9L808.9 1097.0L814.5 1102.1M826.7 1091.9L821.1 1097.0L826.7 1102.1M838.9 1091.9L833.3 1097.0L838.9 1102.1M851.1 1091.9L845.5 1097.0L851.1 1102.1M863.3 1091.9L857.7 1097.0L863.3 1102.1M875.4 1091.9L869.8 1097.0L875.4 1102.1M887.6 1091.9L882.0 1097.0L887.6 1102.1M899.8 1091.9L894.2 1097.0L899.8 1102.1M912.0 1091.9L906.4 1097.0L912.0 1102.1M924.2 1091.9L918.6 1097.0L924.2 1102.1M936.3 1091.9L930.7 1097.0L936.3 1102.1M948.5 1091.9L942.9 1097.0L948.5 1102.1M960.7 1091.9L955.1 1097.0L960.7 1102.1M972.9 1091.9L967.3 1097.0L972.9 1102.1M985.1 1091.9L979.5 1097.0L985.1 1102.1M997.2 1091.9L991.6 1097.0L997.2 1102.1M1009.4 1091.9L1003.8 1097.0L1009.4 1102.1M1021.6 1091.9L1016.0 1097.0L1021.6 1102.1M1033.8 1091.9L1028.2 1097.0L1033.8 1102.1M1046.0 1091.9L1040.4 1097.0L1046.0 1102.1M1058.1 1091.9L1052.5 1097.0L1058.1 1102.1M1070.3 1091.9L1064.7 1097.0L1070.3 1102.1M1082.5 1091.9L1076.9 1097.0L1082.5 1102.1M1094.7 1091.9L1089.1 1097.0L1094.7 1102.1M1110.9 1091.9L1105.3 1097.0L1110.9 1102.1M1123.1 1091.9L1117.5 1097.0L1123.1 1102.1M1135.3 1091.9L1129.7 1097.0L1135.3 1102.1M1147.4 1091.9L1141.8 1097.0L1147.4 1102.1M1159.6 1091.9L1154.0 1097.0L1159.6 1102.1M1171.8 1091.9L1166.2 1097.0L1171.8 1102.1M1184.0 1091.9L1178.4 1097.0L1184.0 1102.1M1196.2 1091.9L1190.6 1097.0L1196.2 1102.1M1208.3 1091.9L1202.7 1097.0L1208.3 1102.1" fill="none" stroke="#27267a" stroke-width="1.6"/>
<rect x="276.70" y="1091.15" width="18.90" height="11.70" fill="#27267a"/>
<rect x="295.20" y="1085.70" width="3.80" height="22.60" fill="#27267a"/>
<rect x="303.70" y="1085.70" width="1.90" height="22.60" fill="#27267a"/>
<rect x="338.15" y="1085.70" width="1.70" height="22.60" fill="#27267a"/>
<rect x="367.50" y="1085.70" width="6.50" height="22.60" fill="#27267a"/>
<rect x="384.20" y="1085.70" width="3.60" height="22.60" fill="#27267a"/>
<rect x="411.95" y="1085.70" width="1.70" height="22.60" fill="#27267a"/>
<rect x="419.00" y="1085.70" width="4.80" height="22.60" fill="#27267a"/>
<rect x="549.00" y="1085.70" width="3.50" height="22.60" fill="#27267a"/>
<rect x="564.20" y="1085.70" width="5.10" height="22.60" fill="#27267a"/>
<rect x="576.00" y="1085.70" width="3.30" height="22.60" fill="#27267a"/>
<rect x="590.00" y="1085.70" width="4.50" height="22.60" fill="#27267a"/>
<rect x="613.80" y="1091.15" width="5.00" height="11.70" fill="#27267a"/>
<rect x="706.20" y="1091.15" width="5.00" height="11.70" fill="#27267a"/>
<rect x="1100.00" y="1091.15" width="5.00" height="11.70" fill="#27267a"/>
<rect x="1213.00" y="1091.15" width="6.30" height="11.70" fill="#27267a"/>
<line x1="296.00" y1="1121.00" x2="1429.00" y2="1121.00" stroke="#27267a" stroke-width="1.5"/>
<path d="M311.5 1115.9L305.9 1121.0L311.5 1126.1M323.7 1115.9L318.1 1121.0L323.7 1126.1M335.9 1115.9L330.3 1121.0L335.9 1126.1M345.8 1115.9L340.2 1121.0L345.8 1126.1M357.9 1115.9L352.3 1121.0L357.9 1126.1M379.9 1115.9L374.3 1121.0L379.9 1126.1M393.7 1115.9L388.1 1121.0L393.7 1126.1M405.9 1115.9L400.3 1121.0L405.9 1126.1M419.6 1115.9L414.0 1121.0L419.6 1126.1M429.7 1115.9L424.1 1121.0L429.7 1126.1M441.9 1115.9L436.3 1121.0L441.9 1126.1M454.1 1115.9L448.5 1121.0L454.1 1126.1M466.2 1115.9L460.6 1121.0L466.2 1126.1M478.4 1115.9L472.8 1121.0L478.4 1126.1M490.6 1115.9L485.0 1121.0L490.6 1126.1M502.8 1115.9L497.2 1121.0L502.8 1126.1M515.0 1115.9L509.4 1121.0L515.0 1126.1M527.1 1115.9L521.5 1121.0L527.1 1126.1M539.3 1115.9L533.7 1121.0L539.3 1126.1M558.4 1115.9L552.8 1121.0L558.4 1126.1M575.2 1115.9L569.6 1121.0L575.2 1126.1M585.2 1115.9L579.6 1121.0L585.2 1126.1M600.4 1115.9L594.8 1121.0L600.4 1126.1M612.6 1115.9L607.0 1121.0L612.6 1126.1M624.7 1115.9L619.1 1121.0L624.7 1126.1M636.9 1115.9L631.3 1121.0L636.9 1126.1M649.1 1115.9L643.5 1121.0L649.1 1126.1M661.2 1115.9L655.6 1121.0L661.2 1126.1M673.4 1115.9L667.8 1121.0L673.4 1126.1M685.6 1115.9L680.0 1121.0L685.6 1126.1M697.8 1115.9L692.2 1121.0L697.8 1126.1M717.1 1115.9L711.5 1121.0L717.1 1126.1M729.3 1115.9L723.7 1121.0L729.3 1126.1M741.5 1115.9L735.9 1121.0L741.5 1126.1M753.6 1115.9L748.0 1121.0L753.6 1126.1M765.8 1115.9L760.2 1121.0L765.8 1126.1M778.0 1115.9L772.4 1121.0L778.0 1126.1M790.2 1115.9L784.6 1121.0L790.2 1126.1M802.4 1115.9L796.8 1121.0L802.4 1126.1M814.5 1115.9L808.9 1121.0L814.5 1126.1M826.7 1115.9L821.1 1121.0L826.7 1126.1M838.9 1115.9L833.3 1121.0L838.9 1126.1M851.1 1115.9L845.5 1121.0L851.1 1126.1M863.3 1115.9L857.7 1121.0L863.3 1126.1M875.4 1115.9L869.8 1121.0L875.4 1126.1M887.6 1115.9L882.0 1121.0L887.6 1126.1M899.8 1115.9L894.2 1121.0L899.8 1126.1M912.0 1115.9L906.4 1121.0L912.0 1126.1M924.2 1115.9L918.6 1121.0L924.2 1126.1M936.3 1115.9L930.7 1121.0L936.3 1126.1M948.5 1115.9L942.9 1121.0L948.5 1126.1M960.7 1115.9L955.1 1121.0L960.7 1126.1M972.9 1115.9L967.3 1121.0L972.9 1126.1M985.1 1115.9L979.5 1121.0L985.1 1126.1M997.2 1115.9L991.6 1121.0L997.2 1126.1M1009.4 1115.9L1003.8 1121.0L1009.4 1126.1M1021.6 1115.9L1016.0 1121.0L1021.6 1126.1M1033.8 1115.9L1028.2 1121.0L1033.8 1126.1M1046.0 1115.9L1040.4 1121.0L1046.0 1126.1M1058.1 1115.9L1052.5 1121.0L1058.1 1126.1M1070.3 1115.9L1064.7 1121.0L1070.3 1126.1M1082.5 1115.9L1076.9 1121.0L1082.5 1126.1M1094.7 1115.9L1089.1 1121.0L1094.7 1126.1M1110.9 1115.9L1105.3 1121.0L1110.9 1126.1M1123.1 1115.9L1117.5 1121.0L1123.1 1126.1M1135.3 1115.9L1129.7 1121.0L1135.3 1126.1M1147.4 1115.9L1141.8 1121.0L1147.4 1126.1M1159.6 1115.9L1154.0 1121.0L1159.6 1126.1M1171.8 1115.9L1166.2 1121.0L1171.8 1126.1M1184.0 1115.9L1178.4 1121.0L1184.0 1126.1M1196.2 1115.9L1190.6 1121.0L1196.2 1126.1M1208.3 1115.9L1202.7 1121.0L1208.3 1126.1M1220.5 1115.9L1214.9 1121.0L1220.5 1126.1M1232.7 1115.9L1227.1 1121.0L1232.7 1126.1M1244.9 1115.9L1239.3 1121.0L1244.9 1126.1M1257.1 1115.9L1251.5 1121.0L1257.1 1126.1M1269.2 1115.9L1263.6 1121.0L1269.2 1126.1M1281.4 1115.9L1275.8 1121.0L1281.4 1126.1M1293.6 1115.9L1288.0 1121.0L1293.6 1126.1M1305.8 1115.9L1300.2 1121.0L1305.8 1126.1M1318.0 1115.9L1312.4 1121.0L1318.0 1126.1M1330.1 1115.9L1324.5 1121.0L1330.1 1126.1M1342.3 1115.9L1336.7 1121.0L1342.3 1126.1M1354.5 1115.9L1348.9 1121.0L1354.5 1126.1M1366.7 1115.9L1361.1 1121.0L1366.7 1126.1M1378.9 1115.9L1373.3 1121.0L1378.9 1126.1M1391.0 1115.9L1385.4 1121.0L1391.0 1126.1M1403.2 1115.9L1397.6 1121.0L1403.2 1126.1M1415.4 1115.9L1409.8 1121.0L1415.4 1126.1M1427.6 1115.9L1422.0 1121.0L1427.6 1126.1" fill="none" stroke="#27267a" stroke-width="1.6"/>
<rect x="276.70" y="1115.15" width="18.90" height="11.70" fill="#27267a"/>
<rect x="295.20" y="1109.70" width="3.80" height="22.60" fill="#27267a"/>
<rect x="303.70" y="1109.70" width="1.90" height="22.60" fill="#27267a"/>
<rect x="338.15" y="1109.70" width="1.70" height="22.60" fill="#27267a"/>
<rect x="367.50" y="1109.70" width="6.50" height="22.60" fill="#27267a"/>
<rect x="384.20" y="1109.70" width="3.60" height="22.60" fill="#27267a"/>
<rect x="411.95" y="1109.70" width="1.70" height="22.60" fill="#27267a"/>
<rect x="419.00" y="1109.70" width="4.80" height="22.60" fill="#27267a"/>
<rect x="549.00" y="1109.70" width="3.50" height="22.60" fill="#27267a"/>
<rect x="564.20" y="1109.70" width="5.10" height="22.60" fill="#27267a"/>
<rect x="576.00" y="1109.70" width="3.30" height="22.60" fill="#27267a"/>
<rect x="590.00" y="1109.70" width="4.50" height="22.60" fill="#27267a"/>
<rect x="614.20" y="1109.70" width="4.60" height="22.60" fill="#27267a"/>
<rect x="706.20" y="1109.70" width="5.00" height="22.60" fill="#27267a"/>
<rect x="1100.00" y="1109.70" width="5.00" height="22.60" fill="#27267a"/>
<rect x="1428.20" y="1109.70" width="1.70" height="22.60" fill="#27267a"/>
<rect x="1429.90" y="1115.15" width="10.60" height="11.70" fill="#27267a"/>
<line x1="300.00" y1="1144.80" x2="1429.00" y2="1144.80" stroke="#27267a" stroke-width="1.5"/>
<path d="M311.7 1139.7L306.1 1144.8L311.7 1149.9M323.9 1139.7L318.3 1144.8L323.9 1149.9M336.1 1139.7L330.5 1144.8L336.1 1149.9M345.8 1139.7L340.2 1144.8L345.8 1149.9M357.9 1139.7L352.3 1144.8L357.9 1149.9M379.9 1139.7L374.3 1144.8L379.9 1149.9M393.7 1139.7L388.1 1144.8L393.7 1149.9M405.9 1139.7L400.3 1144.8L405.9 1149.9M419.6 1139.7L414.0 1144.8L419.6 1149.9M429.7 1139.7L424.1 1144.8L429.7 1149.9M441.9 1139.7L436.3 1144.8L441.9 1149.9M454.1 1139.7L448.5 1144.8L454.1 1149.9M466.2 1139.7L460.6 1144.8L466.2 1149.9M478.4 1139.7L472.8 1144.8L478.4 1149.9M490.6 1139.7L485.0 1144.8L490.6 1149.9M502.8 1139.7L497.2 1144.8L502.8 1149.9M515.0 1139.7L509.4 1144.8L515.0 1149.9M527.1 1139.7L521.5 1144.8L527.1 1149.9M539.3 1139.7L533.7 1144.8L539.3 1149.9M558.4 1139.7L552.8 1144.8L558.4 1149.9M575.2 1139.7L569.6 1144.8L575.2 1149.9M585.2 1139.7L579.6 1144.8L585.2 1149.9M600.4 1139.7L594.8 1144.8L600.4 1149.9M612.6 1139.7L607.0 1144.8L612.6 1149.9M624.7 1139.7L619.1 1144.8L624.7 1149.9M636.9 1139.7L631.3 1144.8L636.9 1149.9M649.1 1139.7L643.5 1144.8L649.1 1149.9M661.2 1139.7L655.6 1144.8L661.2 1149.9M673.4 1139.7L667.8 1144.8L673.4 1149.9M685.6 1139.7L680.0 1144.8L685.6 1149.9M697.8 1139.7L692.2 1144.8L697.8 1149.9M717.1 1139.7L711.5 1144.8L717.1 1149.9M729.3 1139.7L723.7 1144.8L729.3 1149.9M741.5 1139.7L735.9 1144.8L741.5 1149.9M753.6 1139.7L748.0 1144.8L753.6 1149.9M765.8 1139.7L760.2 1144.8L765.8 1149.9M778.0 1139.7L772.4 1144.8L778.0 1149.9M790.2 1139.7L784.6 1144.8L790.2 1149.9M802.4 1139.7L796.8 1144.8L802.4 1149.9M814.5 1139.7L808.9 1144.8L814.5 1149.9M826.7 1139.7L821.1 1144.8L826.7 1149.9M838.9 1139.7L833.3 1144.8L838.9 1149.9M851.1 1139.7L845.5 1144.8L851.1 1149.9M863.3 1139.7L857.7 1144.8L863.3 1149.9M875.4 1139.7L869.8 1144.8L875.4 1149.9M887.6 1139.7L882.0 1144.8L887.6 1149.9M899.8 1139.7L894.2 1144.8L899.8 1149.9M912.0 1139.7L906.4 1144.8L912.0 1149.9M924.2 1139.7L918.6 1144.8L924.2 1149.9M936.3 1139.7L930.7 1144.8L936.3 1149.9M948.5 1139.7L942.9 1144.8L948.5 1149.9M960.7 1139.7L955.1 1144.8L960.7 1149.9M972.9 1139.7L967.3 1144.8L972.9 1149.9M985.1 1139.7L979.5 1144.8L985.1 1149.9M997.2 1139.7L991.6 1144.8L997.2 1149.9M1009.4 1139.7L1003.8 1144.8L1009.4 1149.9M1021.6 1139.7L1016.0 1144.8L1021.6 1149.9M1033.8 1139.7L1028.2 1144.8L1033.8 1149.9M1046.0 1139.7L1040.4 1144.8L1046.0 1149.9M1058.1 1139.7L1052.5 1144.8L1058.1 1149.9M1070.3 1139.7L1064.7 1144.8L1070.3 1149.9M1082.5 1139.7L1076.9 1144.8L1082.5 1149.9M1094.7 1139.7L1089.1 1144.8L1094.7 1149.9M1110.9 1139.7L1105.3 1144.8L1110.9 1149.9M1123.1 1139.7L1117.5 1144.8L1123.1 1149.9M1135.3 1139.7L1129.7 1144.8L1135.3 1149.9M1147.4 1139.7L1141.8 1144.8L1147.4 1149.9M1159.6 1139.7L1154.0 1144.8L1159.6 1149.9M1171.8 1139.7L1166.2 1144.8L1171.8 1149.9M1184.0 1139.7L1178.4 1144.8L1184.0 1149.9M1196.2 1139.7L1190.6 1144.8L1196.2 1149.9M1208.3 1139.7L1202.7 1144.8L1208.3 1149.9M1220.5 1139.7L1214.9 1144.8L1220.5 1149.9M1232.7 1139.7L1227.1 1144.8L1232.7 1149.9M1244.9 1139.7L1239.3 1144.8L1244.9 1149.9M1257.1 1139.7L1251.5 1144.8L1257.1 1149.9M1269.2 1139.7L1263.6 1144.8L1269.2 1149.9M1281.4 1139.7L1275.8 1144.8L1281.4 1149.9M1293.6 1139.7L1288.0 1144.8L1293.6 1149.9M1305.8 1139.7L1300.2 1144.8L1305.8 1149.9M1318.0 1139.7L1312.4 1144.8L1318.0 1149.9M1330.1 1139.7L1324.5 1144.8L1330.1 1149.9M1342.3 1139.7L1336.7 1144.8L1342.3 1149.9M1354.5 1139.7L1348.9 1144.8L1354.5 1149.9M1366.7 1139.7L1361.1 1144.8L1366.7 1149.9M1378.9 1139.7L1373.3 1144.8L1378.9 1149.9M1391.0 1139.7L1385.4 1144.8L1391.0 1149.9M1403.2 1139.7L1397.6 1144.8L1403.2 1149.9M1415.4 1139.7L1409.8 1144.8L1415.4 1149.9M1427.6 1139.7L1422.0 1144.8L1427.6 1149.9" fill="none" stroke="#27267a" stroke-width="1.6"/>
<rect x="276.70" y="1138.95" width="25.80" height="11.70" fill="#27267a"/>
<rect x="302.00" y="1133.50" width="3.80" height="22.60" fill="#27267a"/>
<rect x="338.15" y="1133.50" width="1.70" height="22.60" fill="#27267a"/>
<rect x="367.50" y="1133.50" width="6.50" height="22.60" fill="#27267a"/>
<rect x="384.20" y="1133.50" width="3.60" height="22.60" fill="#27267a"/>
<rect x="411.95" y="1133.50" width="1.70" height="22.60" fill="#27267a"/>
<rect x="419.00" y="1133.50" width="4.80" height="22.60" fill="#27267a"/>
<rect x="549.00" y="1133.50" width="3.50" height="22.60" fill="#27267a"/>
<rect x="564.20" y="1133.50" width="5.10" height="22.60" fill="#27267a"/>
<rect x="576.00" y="1133.50" width="3.30" height="22.60" fill="#27267a"/>
<rect x="590.00" y="1133.50" width="4.50" height="22.60" fill="#27267a"/>
<rect x="614.20" y="1133.50" width="4.60" height="22.60" fill="#27267a"/>
<rect x="706.20" y="1133.50" width="5.00" height="22.60" fill="#27267a"/>
<rect x="1100.00" y="1133.50" width="5.00" height="22.60" fill="#27267a"/>
<rect x="1428.20" y="1133.50" width="1.70" height="22.60" fill="#27267a"/>
<rect x="1429.90" y="1138.95" width="8.90" height="11.70" fill="#27267a"/>
<text x="1223.53" y="1103.80" font-size="25.4" fill="#27267a" font-style="italic" textLength="54.35" lengthAdjust="spacingAndGlyphs">ENG</text>
<text x="1448.43" y="1127.80" font-size="25.4" fill="#27267a" font-style="italic" textLength="54.35" lengthAdjust="spacingAndGlyphs">ENG</text>
<text x="1448.43" y="1151.50" font-size="25.4" fill="#27267a" font-style="italic" textLength="54.35" lengthAdjust="spacingAndGlyphs">ENG</text>
<line x1="345.00" y1="1168.60" x2="490.50" y2="1168.60" stroke="#17683a" stroke-width="1.5"/>
<path d="M391.8 1163.5L397.4 1168.6L391.8 1173.7M403.8 1163.5L409.4 1168.6L403.8 1173.7M415.9 1163.5L421.5 1168.6L415.9 1173.7M427.9 1163.5L433.5 1168.6L427.9 1173.7M440.0 1163.5L445.6 1168.6L440.0 1173.7M452.0 1163.5L457.6 1168.6L452.0 1173.7M475.6 1163.5L481.2 1168.6L475.6 1173.7" fill="none" stroke="#17683a" stroke-width="1.6"/>
<rect x="307.20" y="1162.60" width="37.80" height="12.00" fill="#17683a"/>
<rect x="356.90" y="1162.60" width="1.80" height="12.00" fill="#17683a"/>
<rect x="372.20" y="1162.60" width="3.60" height="12.00" fill="#17683a"/>
<rect x="380.50" y="1162.60" width="3.70" height="12.00" fill="#17683a"/>
<rect x="458.20" y="1162.60" width="8.30" height="12.00" fill="#17683a"/>
<rect x="490.50" y="1162.60" width="5.50" height="12.00" fill="#17683a"/>
<text x="505.93" y="1175.50" font-size="25.4" fill="#17683a" font-style="italic" textLength="223.23" lengthAdjust="spacingAndGlyphs">ENSG00000225032</text>
<rect x="793.00" y="1162.60" width="3.70" height="12.00" fill="#17683a"/>
<text x="803.75" y="1175.50" font-size="25.4" fill="#17683a" font-style="italic" textLength="81.87" lengthAdjust="spacingAndGlyphs">Y_RNA</text>
<text x="1729.69" y="1103.80" font-size="25.4" fill="#27267a" font-style="italic" textLength="45.75" lengthAdjust="spacingAndGlyphs">AK1</text>
<text x="1599.43" y="1127.60" font-size="25.4" fill="#27267a" font-style="italic" textLength="223.61" lengthAdjust="spacingAndGlyphs">ENSG00000257524</text>
<text x="1778.00" y="1151.50" font-size="25.4" fill="#27267a" font-style="italic" textLength="45.95" lengthAdjust="spacingAndGlyphs">AK1</text>
<text x="1778.00" y="1175.00" font-size="25.4" fill="#27267a" font-style="italic" textLength="45.95" lengthAdjust="spacingAndGlyphs">AK1</text>
<text x="1765.74" y="1198.80" font-size="25.4" fill="#17683a" font-style="italic" textLength="100.02" lengthAdjust="spacingAndGlyphs">MIR4672</text>
<rect x="1873.10" y="1186.40" width="1.70" height="12.10" fill="#17683a"/>
<line x1="1833.00" y1="1097.00" x2="2072.40" y2="1097.00" stroke="#27267a" stroke-width="1.5"/>
<path d="M1851.7 1091.9L1846.1 1097.0L1851.7 1102.1M1863.9 1091.9L1858.3 1097.0L1863.9 1102.1M1876.1 1091.9L1870.5 1097.0L1876.1 1102.1M1888.2 1091.9L1882.6 1097.0L1888.2 1102.1M1900.4 1091.9L1894.8 1097.0L1900.4 1102.1M1912.6 1091.9L1907.0 1097.0L1912.6 1102.1M1924.8 1091.9L1919.2 1097.0L1924.8 1102.1M1937.0 1091.9L1931.4 1097.0L1937.0 1102.1M1952.7 1091.9L1947.1 1097.0L1952.7 1102.1M1964.9 1091.9L1959.3 1097.0L1964.9 1102.1M1986.7 1091.9L1981.1 1097.0L1986.7 1102.1M1998.9 1091.9L1993.3 1097.0L1998.9 1102.1M2011.1 1091.9L2005.5 1097.0L2011.1 1102.1M2023.2 1091.9L2017.6 1097.0L2023.2 1102.1M2033.1 1091.9L2027.5 1097.0L2033.1 1102.1M2045.3 1091.9L2039.7 1097.0L2045.3 1102.1M2057.5 1091.9L2051.9 1097.0L2057.5 1102.1M2069.6 1091.9L2064.0 1097.0L2069.6 1102.1" fill="none" stroke="#27267a" stroke-width="1.6"/>
<rect x="1787.00" y="1091.15" width="45.60" height="11.70" fill="#27267a"/>
<rect x="1832.00" y="1085.70" width="2.00" height="22.60" fill="#27267a"/>
<rect x="1840.90" y="1085.70" width="4.90" height="22.60" fill="#27267a"/>
<rect x="1943.30" y="1085.70" width="3.50" height="22.60" fill="#27267a"/>
<rect x="1969.00" y="1085.70" width="4.70" height="22.60" fill="#27267a"/>
<rect x="1979.10" y="1085.70" width="1.70" height="22.60" fill="#27267a"/>
<rect x="2025.50" y="1085.70" width="1.70" height="22.60" fill="#27267a"/>
<line x1="1833.00" y1="1121.00" x2="2072.40" y2="1121.00" stroke="#27267a" stroke-width="1.5"/>
<path d="M1851.7 1115.9L1846.1 1121.0L1851.7 1126.1M1863.9 1115.9L1858.3 1121.0L1863.9 1126.1M1876.1 1115.9L1870.5 1121.0L1876.1 1126.1M1888.2 1115.9L1882.6 1121.0L1888.2 1126.1M1900.4 1115.9L1894.8 1121.0L1900.4 1126.1M1912.6 1115.9L1907.0 1121.0L1912.6 1126.1M1924.8 1115.9L1919.2 1121.0L1924.8 1126.1M1937.0 1115.9L1931.4 1121.0L1937.0 1126.1M1952.7 1115.9L1947.1 1121.0L1952.7 1126.1M1964.9 1115.9L1959.3 1121.0L1964.9 1126.1M1986.7 1115.9L1981.1 1121.0L1986.7 1126.1M1998.9 1115.9L1993.3 1121.0L1998.9 1126.1M2011.1 1115.9L2005.5 1121.0L2011.1 1126.1M2023.2 1115.9L2017.6 1121.0L2023.2 1126.1M2033.1 1115.9L2027.5 1121.0L2033.1 1126.1M2045.3 1115.9L2039.7 1121.0L2045.3 1126.1M2057.5 1115.9L2051.9 1121.0L2057.5 1126.1M2069.6 1115.9L2064.0 1121.0L2069.6 1126.1" fill="none" stroke="#27267a" stroke-width="1.6"/>
<rect x="1827.40" y="1115.15" width="6.00" height="11.70" fill="#27267a"/>
<rect x="1840.90" y="1115.15" width="4.90" height="11.70" fill="#27267a"/>
<rect x="1943.30" y="1115.15" width="3.50" height="11.70" fill="#27267a"/>
<rect x="1969.00" y="1115.15" width="4.70" height="11.70" fill="#27267a"/>
<rect x="1979.10" y="1115.15" width="1.70" height="11.70" fill="#27267a"/>
<rect x="2025.50" y="1115.15" width="1.70" height="11.70" fill="#27267a"/>
<line x1="1833.00" y1="1144.80" x2="2032.50" y2="1144.80" stroke="#27267a" stroke-width="1.5"/>
<path d="M1851.7 1139.7L1846.1 1144.8L1851.7 1149.9M1863.9 1139.7L1858.3 1144.8L1863.9 1149.9M1876.1 1139.7L1870.5 1144.8L1876.1 1149.9M1888.2 1139.7L1882.6 1144.8L1888.2 1149.9M1900.4 1139.7L1894.8 1144.8L1900.4 1149.9M1912.6 1139.7L1907.0 1144.8L1912.6 1149.9M1924.8 1139.7L1919.2 1144.8L1924.8 1149.9M1937.0 1139.7L1931.4 1144.8L1937.0 1149.9M1952.7 1139.7L1947.1 1144.8L1952.7 1149.9M1964.9 1139.7L1959.3 1144.8L1964.9 1149.9M1986.7 1139.7L1981.1 1144.8L1986.7 1149.9M1998.9 1139.7L1993.3 1144.8L1998.9 1149.9M2011.1 1139.7L2005.5 1144.8L2011.1 1149.9M2023.2 1139.7L2017.6 1144.8L2023.2 1149.9M2033.0 1139.7L2027.4 1144.8L2033.0 1149.9" fill="none" stroke="#27267a" stroke-width="1.6"/>
<rect x="1832.00" y="1133.50" width="2.00" height="22.60" fill="#27267a"/>
<rect x="1840.90" y="1133.50" width="4.90" height="22.60" fill="#27267a"/>
<rect x="1943.30" y="1133.50" width="3.50" height="22.60" fill="#27267a"/>
<rect x="1969.00" y="1133.50" width="4.70" height="22.60" fill="#27267a"/>
<rect x="1979.10" y="1133.50" width="1.70" height="22.60" fill="#27267a"/>
<rect x="2025.30" y="1133.50" width="1.90" height="22.60" fill="#27267a"/>
<rect x="2032.30" y="1138.95" width="5.30" height="11.70" fill="#27267a"/>
<line x1="1833.00" y1="1168.70" x2="1991.50" y2="1168.70" stroke="#27267a" stroke-width="1.5"/>
<path d="M1851.7 1163.6L1846.1 1168.7L1851.7 1173.8M1863.9 1163.6L1858.3 1168.7L1863.9 1173.8M1876.1 1163.6L1870.5 1168.7L1876.1 1173.8M1888.2 1163.6L1882.6 1168.7L1888.2 1173.8M1900.4 1163.6L1894.8 1168.7L1900.4 1173.8M1912.6 1163.6L1907.0 1168.7L1912.6 1173.8M1924.8 1163.6L1919.2 1168.7L1924.8 1173.8M1937.0 1163.6L1931.4 1168.7L1937.0 1173.8M1952.7 1163.6L1947.1 1168.7L1952.7 1173.8M1964.9 1163.6L1959.3 1168.7L1964.9 1173.8M1986.7 1163.6L1981.1 1168.7L1986.7 1173.8" fill="none" stroke="#27267a" stroke-width="1.6"/>
<rect x="1832.00" y="1157.40" width="2.00" height="22.60" fill="#27267a"/>
<rect x="1840.90" y="1157.40" width="4.90" height="22.60" fill="#27267a"/>
<rect x="1943.30" y="1157.40" width="3.50" height="22.60" fill="#27267a"/>
<rect x="1969.00" y="1157.40" width="4.70" height="22.60" fill="#27267a"/>
<rect x="1979.10" y="1157.40" width="1.70" height="22.60" fill="#27267a"/>
<rect x="1989.40" y="1157.40" width="1.70" height="22.60" fill="#27267a"/>
<rect x="1991.10" y="1162.85" width="4.00" height="11.70" fill="#27267a"/>
<rect x="295.00" y="1211.30" width="7.50" height="21.70" fill="#f9a61c"/>
<rect x="310.80" y="1211.30" width="5.00" height="21.70" fill="#f9a61c"/>
<rect x="317.50" y="1211.30" width="7.50" height="21.70" fill="#f9a61c"/>
<rect x="358.50" y="1211.30" width="10.50" height="21.70" fill="#f9a61c"/>
<rect x="369.00" y="1211.30" width="7.00" height="21.70" fill="#fdd116"/>
<rect x="546.80" y="1211.30" width="7.40" height="21.70" fill="#fdd116"/>
<rect x="582.50" y="1211.30" width="11.00" height="21.70" fill="#fdd116"/>
<rect x="615.00" y="1211.30" width="14.50" height="21.70" fill="#fdd116"/>
<rect x="637.80" y="1211.30" width="10.20" height="21.70" fill="#fdd116"/>
<rect x="658.20" y="1211.30" width="7.60" height="21.70" fill="#fdd116"/>
<rect x="671.80" y="1211.30" width="17.40" height="21.70" fill="#fdd116"/>
<rect x="702.50" y="1211.30" width="9.00" height="21.70" fill="#fdd116"/>
<rect x="822.00" y="1211.30" width="10.80" height="21.70" fill="#f9a61c"/>
<rect x="882.00" y="1211.30" width="8.80" height="21.70" fill="#f9a61c"/>
<rect x="890.80" y="1211.30" width="8.40" height="21.70" fill="#fdd116"/>
<rect x="901.00" y="1211.30" width="5.50" height="21.70" fill="#fdd116"/>
<rect x="907.50" y="1211.30" width="11.00" height="21.70" fill="#fdd116"/>
<rect x="933.80" y="1211.30" width="7.40" height="21.70" fill="#fdd116"/>
<rect x="966.20" y="1211.30" width="8.80" height="21.70" fill="#fdd116"/>
<rect x="1008.50" y="1211.30" width="11.00" height="21.70" fill="#f9a61c"/>
<rect x="1043.20" y="1211.30" width="7.30" height="21.70" fill="#f9a61c"/>
<rect x="1154.20" y="1211.30" width="10.80" height="21.70" fill="#fdd116"/>
<rect x="1195.00" y="1211.30" width="13.80" height="21.70" fill="#f9a61c"/>
<rect x="1210.00" y="1211.30" width="6.00" height="21.70" fill="#f9a61c"/>
<rect x="1219.20" y="1211.30" width="8.80" height="21.70" fill="#ec1f27"/>
<rect x="1234.50" y="1211.30" width="11.00" height="21.70" fill="#f9a61c"/>
<rect x="1253.20" y="1211.30" width="9.30" height="21.70" fill="#f9a61c"/>
<rect x="1272.00" y="1211.30" width="11.00" height="21.70" fill="#f9a61c"/>
<rect x="1313.20" y="1211.30" width="9.30" height="21.70" fill="#fdd116"/>
<rect x="1411.20" y="1211.30" width="6.80" height="21.70" fill="#f9a61c"/>
<rect x="1420.00" y="1211.30" width="7.00" height="21.70" fill="#f9a61c"/>
<rect x="1428.00" y="1211.30" width="7.50" height="21.70" fill="#f9a61c"/>
<rect x="1436.20" y="1211.30" width="5.80" height="21.70" fill="#ec1f27"/>
<rect x="1448.80" y="1211.30" width="7.20" height="21.70" fill="#f9a61c"/>
<rect x="1537.50" y="1211.30" width="10.50" height="21.70" fill="#fdd116"/>
<rect x="1560.00" y="1211.30" width="10.80" height="21.70" fill="#fdd116"/>
<rect x="1604.40" y="1211.30" width="10.50" height="21.70" fill="#fdd116"/>
<rect x="1660.60" y="1211.30" width="5.30" height="21.70" fill="#fdd116"/>
<rect x="1667.60" y="1211.30" width="24.30" height="21.70" fill="#fdd116"/>
<rect x="1693.30" y="1211.30" width="10.60" height="21.70" fill="#fdd116"/>
<rect x="1744.30" y="1211.30" width="8.60" height="21.70" fill="#fdd116"/>
<rect x="1759.80" y="1211.30" width="10.50" height="21.70" fill="#fdd116"/>
<rect x="1787.00" y="1211.30" width="10.80" height="21.70" fill="#fdd116"/>
<rect x="1826.30" y="1211.30" width="5.30" height="21.70" fill="#f9a61c"/>
<rect x="1837.10" y="1211.30" width="8.90" height="21.70" fill="#f9a61c"/>
<rect x="1870.60" y="1211.30" width="5.80" height="21.70" fill="#f9a61c"/>
<rect x="1886.40" y="1211.30" width="10.50" height="21.70" fill="#f9a61c"/>
<rect x="1991.10" y="1211.30" width="6.70" height="21.70" fill="#ec1f27"/>
<rect x="2006.30" y="1211.30" width="9.20" height="21.70" fill="#f9a61c"/>
<rect x="2024.90" y="1211.30" width="5.50" height="21.70" fill="#f9a61c"/>
<rect x="2036.50" y="1211.30" width="5.90" height="21.70" fill="#ec1f27"/>
<rect x="2057.30" y="1211.30" width="9.20" height="21.70" fill="#f9a61c"/>
<path d="M1442.9 1237 C1574 1484.6, 1696.8 1484.6, 1827.9 1237" fill="none" stroke="#e0862a" stroke-width="1.5"/>
<line x1="251.80" y1="640.60" x2="251.80" y2="1424.00" stroke="#303030" stroke-width="4.0"/>
</g>
<g id="panel-c">
<text x="18.60" y="1463.90" font-size="31.5" font-weight="bold">c</text>
<rect x="78.45" y="1867.60" width="29.90" height="215.00" fill="#46327e"/>
<rect x="111.54" y="1867.60" width="29.90" height="201.20" fill="#79c85a"/>
<rect x="144.62" y="1867.60" width="29.90" height="199.90" fill="#808282"/>
<rect x="177.71" y="1867.60" width="29.90" height="96.30" fill="#2a768e"/>
<rect x="210.79" y="1867.60" width="29.90" height="90.70" fill="#808282"/>
<rect x="243.88" y="1867.60" width="29.90" height="76.90" fill="#79c85a"/>
<rect x="276.96" y="1867.60" width="29.90" height="57.40" fill="#3e508a"/>
<rect x="310.05" y="1867.60" width="29.90" height="53.60" fill="#5cc16d"/>
<rect x="343.13" y="1867.60" width="29.90" height="44.50" fill="#3fb87b"/>
<rect x="376.21" y="1867.60" width="29.90" height="42.80" fill="#4cbd74"/>
<rect x="409.30" y="1867.60" width="29.90" height="28.50" fill="#b9d943"/>
<rect x="442.39" y="1867.60" width="29.90" height="25.10" fill="#c3dc3f"/>
<rect x="475.47" y="1867.60" width="29.90" height="23.80" fill="#b5d844"/>
<rect x="508.56" y="1867.60" width="29.90" height="23.80" fill="#b2d745"/>
<rect x="541.64" y="1867.60" width="29.90" height="20.30" fill="#84c954"/>
<rect x="574.73" y="1867.60" width="29.90" height="13.90" fill="#d3e03c"/>
<rect x="607.81" y="1867.60" width="29.90" height="10.40" fill="#dbe23a"/>
<rect x="640.89" y="1867.60" width="29.90" height="5.60" fill="#e6e334"/>
<rect x="673.98" y="1867.60" width="29.90" height="3.50" fill="#e6e334"/>
<rect x="707.06" y="1867.60" width="29.90" height="1.00" fill="#e8e333"/>
<rect x="740.15" y="1865.00" width="29.90" height="2.60" fill="#e6e334"/>
<rect x="773.23" y="1862.90" width="29.90" height="4.70" fill="#e8e333"/>
<rect x="806.32" y="1860.70" width="29.90" height="6.90" fill="#e8e333"/>
<rect x="839.40" y="1859.00" width="29.90" height="8.60" fill="#e8e333"/>
<rect x="872.49" y="1857.30" width="29.90" height="10.30" fill="#e4e235"/>
<rect x="905.57" y="1850.80" width="29.90" height="16.80" fill="#808282"/>
<rect x="938.66" y="1845.20" width="29.90" height="22.40" fill="#7fc756"/>
<rect x="971.75" y="1842.20" width="29.90" height="25.40" fill="#dde23a"/>
<rect x="1004.83" y="1840.90" width="29.90" height="26.70" fill="#e6e22f"/>
<rect x="1037.91" y="1840.40" width="29.90" height="27.20" fill="#85c954"/>
<rect x="1071.00" y="1833.10" width="29.90" height="34.50" fill="#9bd04b"/>
<rect x="1104.09" y="1829.70" width="29.90" height="37.90" fill="#cfe03f"/>
<rect x="1137.17" y="1828.40" width="29.90" height="39.20" fill="#9ed14a"/>
<rect x="1170.26" y="1824.90" width="29.90" height="42.70" fill="#dfe33a"/>
<rect x="1203.34" y="1824.50" width="29.90" height="43.10" fill="#bedb43"/>
<rect x="1236.43" y="1819.30" width="29.90" height="48.30" fill="#7cc657"/>
<rect x="1269.51" y="1810.20" width="29.90" height="57.40" fill="#26988a"/>
<rect x="1302.60" y="1807.60" width="29.90" height="60.00" fill="#2aa387"/>
<rect x="1335.68" y="1804.20" width="29.90" height="63.40" fill="#7ac658"/>
<rect x="1368.77" y="1802.50" width="29.90" height="65.10" fill="#68c267"/>
<rect x="1401.85" y="1801.20" width="29.90" height="66.40" fill="#472a6f"/>
<rect x="1434.94" y="1783.90" width="29.90" height="83.70" fill="#26a488"/>
<rect x="1468.02" y="1780.00" width="29.90" height="87.60" fill="#4dbc73"/>
<rect x="1501.11" y="1776.10" width="29.90" height="91.50" fill="#24908c"/>
<rect x="1534.19" y="1768.40" width="29.90" height="99.20" fill="#2bab82"/>
<rect x="1567.28" y="1754.60" width="29.90" height="113.00" fill="#808282"/>
<rect x="1600.36" y="1742.00" width="29.90" height="125.60" fill="#54bf70"/>
<rect x="1633.45" y="1718.30" width="29.90" height="149.30" fill="#25ab83"/>
<rect x="1666.53" y="1710.10" width="29.90" height="157.50" fill="#27aa86"/>
<rect x="1699.62" y="1709.70" width="29.90" height="157.90" fill="#46296f"/>
<rect x="1732.70" y="1708.80" width="29.90" height="158.80" fill="#258d8d"/>
<rect x="1765.79" y="1700.20" width="29.90" height="167.40" fill="#3b5a8c"/>
<rect x="1798.87" y="1695.00" width="29.90" height="172.60" fill="#bcdb42"/>
<rect x="1831.96" y="1685.90" width="29.90" height="181.70" fill="#433a83"/>
<rect x="1865.04" y="1675.60" width="29.90" height="192.00" fill="#808282"/>
<rect x="1898.12" y="1514.20" width="29.90" height="353.40" fill="#433c83"/>
<rect x="1931.21" y="1512.40" width="29.90" height="355.20" fill="#411c5c"/>
<line x1="73.60" y1="1484.80" x2="73.60" y2="2112.00" stroke="#000" stroke-width="2.7"/>
<line x1="72.30" y1="2110.70" x2="1965.50" y2="2110.70" stroke="#000" stroke-width="2.7"/>
<line x1="66.40" y1="1590.30" x2="72.60" y2="1590.30" stroke="#000" stroke-width="2.4"/>
<text x="60.10" y="1595.00" font-size="30.37" text-anchor="end" textLength="16.24" lengthAdjust="spacingAndGlyphs">2</text>
<line x1="66.40" y1="1729.40" x2="72.60" y2="1729.40" stroke="#000" stroke-width="2.4"/>
<text x="60.10" y="1739.80" font-size="30.37" text-anchor="end" textLength="16.24" lengthAdjust="spacingAndGlyphs">1</text>
<line x1="66.40" y1="1868.00" x2="72.60" y2="1868.00" stroke="#000" stroke-width="2.4"/>
<text x="60.10" y="1879.60" font-size="30.37" text-anchor="end" textLength="16.24" lengthAdjust="spacingAndGlyphs">0</text>
<line x1="66.40" y1="2006.50" x2="72.60" y2="2006.50" stroke="#000" stroke-width="2.4"/>
<text x="60.10" y="2012.00" font-size="30.37" text-anchor="end" textLength="33.29" lengthAdjust="spacingAndGlyphs">−1</text>
<line x1="93.40" y1="2111.50" x2="93.40" y2="2116.50" stroke="#000" stroke-width="2.4"/>
<text x="104.00" y="2125.30" font-size="30.56" text-anchor="end" font-style="italic" textLength="72.79" lengthAdjust="spacingAndGlyphs" transform="rotate(-90 104.00 2125.30)">BCL2</text>
<line x1="126.49" y1="2111.50" x2="126.49" y2="2116.50" stroke="#000" stroke-width="2.4"/>
<text x="137.09" y="2125.30" font-size="30.56" text-anchor="end" font-style="italic" textLength="55.00" lengthAdjust="spacingAndGlyphs" transform="rotate(-90 137.09 2125.30)">LEP</text>
<line x1="159.57" y1="2111.50" x2="159.57" y2="2116.50" stroke="#000" stroke-width="2.4"/>
<text x="170.17" y="2125.30" font-size="30.56" text-anchor="end" font-style="italic" textLength="61.45" lengthAdjust="spacingAndGlyphs" transform="rotate(-90 170.17 2125.30)">EPO</text>
<line x1="192.66" y1="2111.50" x2="192.66" y2="2116.50" stroke="#000" stroke-width="2.4"/>
<text x="203.25" y="2125.30" font-size="30.56" text-anchor="end" font-style="italic" textLength="95.43" lengthAdjust="spacingAndGlyphs" transform="rotate(-90 203.25 2125.30)">EGLN2</text>
<line x1="225.74" y1="2111.50" x2="225.74" y2="2116.50" stroke="#000" stroke-width="2.4"/>
<text x="236.34" y="2125.30" font-size="30.56" text-anchor="end" font-style="italic" textLength="108.39" lengthAdjust="spacingAndGlyphs" transform="rotate(-90 236.34 2125.30)">SLC2A2</text>
<line x1="258.83" y1="2111.50" x2="258.83" y2="2116.50" stroke="#000" stroke-width="2.4"/>
<text x="269.43" y="2125.30" font-size="30.56" text-anchor="end" font-style="italic" textLength="98.65" lengthAdjust="spacingAndGlyphs" transform="rotate(-90 269.43 2125.30)">ALDOA</text>
<line x1="291.91" y1="2111.50" x2="291.91" y2="2116.50" stroke="#000" stroke-width="2.4"/>
<text x="302.51" y="2125.30" font-size="30.56" text-anchor="end" font-style="italic" textLength="103.48" lengthAdjust="spacingAndGlyphs" transform="rotate(-90 302.51 2125.30)">HIF1AN</text>
<line x1="325.00" y1="2111.50" x2="325.00" y2="2116.50" stroke="#000" stroke-width="2.4"/>
<text x="335.60" y="2125.30" font-size="30.56" text-anchor="end" font-style="italic" textLength="67.92" lengthAdjust="spacingAndGlyphs" transform="rotate(-90 335.60 2125.30)">PIM1</text>
<line x1="358.08" y1="2111.50" x2="358.08" y2="2116.50" stroke="#000" stroke-width="2.4"/>
<text x="368.68" y="2125.30" font-size="30.56" text-anchor="end" font-style="italic" textLength="87.37" lengthAdjust="spacingAndGlyphs" transform="rotate(-90 368.68 2125.30)">EP300</text>
<line x1="391.16" y1="2111.50" x2="391.16" y2="2116.50" stroke="#000" stroke-width="2.4"/>
<text x="401.76" y="2125.30" font-size="30.56" text-anchor="end" font-style="italic" textLength="79.22" lengthAdjust="spacingAndGlyphs" transform="rotate(-90 401.76 2125.30)">ARNT</text>
<line x1="424.25" y1="2111.50" x2="424.25" y2="2116.50" stroke="#000" stroke-width="2.4"/>
<text x="434.85" y="2125.30" font-size="30.56" text-anchor="end" font-style="italic" textLength="108.39" lengthAdjust="spacingAndGlyphs" transform="rotate(-90 434.85 2125.30)">SLC2A1</text>
<line x1="457.34" y1="2111.50" x2="457.34" y2="2116.50" stroke="#000" stroke-width="2.4"/>
<text x="467.94" y="2125.30" font-size="30.56" text-anchor="end" font-style="italic" textLength="69.52" lengthAdjust="spacingAndGlyphs" transform="rotate(-90 467.94 2125.30)">ISCU</text>
<line x1="490.42" y1="2111.50" x2="490.42" y2="2116.50" stroke="#000" stroke-width="2.4"/>
<text x="501.02" y="2125.30" font-size="30.56" text-anchor="end" font-style="italic" textLength="93.82" lengthAdjust="spacingAndGlyphs" transform="rotate(-90 501.02 2125.30)">EPAS1</text>
<line x1="523.50" y1="2111.50" x2="523.50" y2="2116.50" stroke="#000" stroke-width="2.4"/>
<text x="534.11" y="2125.30" font-size="30.56" text-anchor="end" font-style="italic" textLength="72.78" lengthAdjust="spacingAndGlyphs" transform="rotate(-90 534.11 2125.30)">PFKL</text>
<line x1="556.59" y1="2111.50" x2="556.59" y2="2116.50" stroke="#000" stroke-width="2.4"/>
<text x="567.19" y="2125.30" font-size="30.56" text-anchor="end" font-style="italic" textLength="119.67" lengthAdjust="spacingAndGlyphs" transform="rotate(-90 567.19 2125.30)">CREBBP</text>
<line x1="589.68" y1="2111.50" x2="589.68" y2="2116.50" stroke="#000" stroke-width="2.4"/>
<text x="600.28" y="2125.30" font-size="30.56" text-anchor="end" font-style="italic" textLength="129.33" lengthAdjust="spacingAndGlyphs" transform="rotate(-90 600.28 2125.30)">COMMD1</text>
<line x1="622.76" y1="2111.50" x2="622.76" y2="2116.50" stroke="#000" stroke-width="2.4"/>
<text x="633.36" y="2125.30" font-size="30.56" text-anchor="end" font-style="italic" textLength="56.61" lengthAdjust="spacingAndGlyphs" transform="rotate(-90 633.36 2125.30)">HK1</text>
<line x1="655.85" y1="2111.50" x2="655.85" y2="2116.50" stroke="#000" stroke-width="2.4"/>
<text x="666.45" y="2125.30" font-size="30.56" text-anchor="end" font-style="italic" textLength="63.06" lengthAdjust="spacingAndGlyphs" transform="rotate(-90 666.45 2125.30)">PKM</text>
<line x1="688.93" y1="2111.50" x2="688.93" y2="2116.50" stroke="#000" stroke-width="2.4"/>
<text x="699.53" y="2125.30" font-size="30.56" text-anchor="end" font-style="italic" textLength="77.61" lengthAdjust="spacingAndGlyphs" transform="rotate(-90 699.53 2125.30)">PTEN</text>
<line x1="722.01" y1="2111.50" x2="722.01" y2="2116.50" stroke="#000" stroke-width="2.4"/>
<text x="732.62" y="2125.30" font-size="30.56" text-anchor="end" font-style="italic" textLength="95.43" lengthAdjust="spacingAndGlyphs" transform="rotate(-90 732.62 2125.30)">COX10</text>
<line x1="755.10" y1="2111.50" x2="755.10" y2="2116.50" stroke="#000" stroke-width="2.4"/>
<text x="765.70" y="2125.30" font-size="30.56" text-anchor="end" font-style="italic" textLength="98.64" lengthAdjust="spacingAndGlyphs" transform="rotate(-90 765.70 2125.30)">VEGFB</text>
<line x1="788.18" y1="2111.50" x2="788.18" y2="2116.50" stroke="#000" stroke-width="2.4"/>
<text x="798.78" y="2125.30" font-size="30.56" text-anchor="end" font-style="italic" textLength="72.79" lengthAdjust="spacingAndGlyphs" transform="rotate(-90 798.78 2125.30)">LRP1</text>
<line x1="821.27" y1="2111.50" x2="821.27" y2="2116.50" stroke="#000" stroke-width="2.4"/>
<text x="831.87" y="2125.30" font-size="30.56" text-anchor="end" font-style="italic" textLength="93.78" lengthAdjust="spacingAndGlyphs" transform="rotate(-90 831.87 2125.30)">TGFB3</text>
<line x1="854.36" y1="2111.50" x2="854.36" y2="2116.50" stroke="#000" stroke-width="2.4"/>
<text x="864.96" y="2125.30" font-size="30.56" text-anchor="end" font-style="italic" textLength="100.24" lengthAdjust="spacingAndGlyphs" transform="rotate(-90 864.96 2125.30)">VEGFD</text>
<line x1="887.44" y1="2111.50" x2="887.44" y2="2116.50" stroke="#000" stroke-width="2.4"/>
<text x="898.04" y="2125.30" font-size="30.56" text-anchor="end" font-style="italic" textLength="82.47" lengthAdjust="spacingAndGlyphs" transform="rotate(-90 898.04 2125.30)">HIF1A</text>
<line x1="920.52" y1="2111.50" x2="920.52" y2="2116.50" stroke="#000" stroke-width="2.4"/>
<text x="931.12" y="2125.30" font-size="30.56" text-anchor="end" font-style="italic" textLength="79.24" lengthAdjust="spacingAndGlyphs" transform="rotate(-90 931.12 2125.30)">NOS1</text>
<line x1="953.61" y1="2111.50" x2="953.61" y2="2116.50" stroke="#000" stroke-width="2.4"/>
<text x="964.21" y="2125.30" font-size="30.56" text-anchor="end" font-style="italic" textLength="93.79" lengthAdjust="spacingAndGlyphs" transform="rotate(-90 964.21 2125.30)">NFKB1</text>
<line x1="986.70" y1="2111.50" x2="986.70" y2="2116.50" stroke="#000" stroke-width="2.4"/>
<text x="997.30" y="2125.30" font-size="30.56" text-anchor="end" font-style="italic" textLength="64.67" lengthAdjust="spacingAndGlyphs" transform="rotate(-90 997.30 2125.30)">MYC</text>
<line x1="1019.78" y1="2111.50" x2="1019.78" y2="2116.50" stroke="#000" stroke-width="2.4"/>
<text x="1030.38" y="2125.30" font-size="30.56" text-anchor="end" font-style="italic" textLength="64.67" lengthAdjust="spacingAndGlyphs" transform="rotate(-90 1030.38 2125.30)">ADM</text>
<line x1="1052.87" y1="2111.50" x2="1052.87" y2="2116.50" stroke="#000" stroke-width="2.4"/>
<text x="1063.46" y="2125.30" font-size="30.56" text-anchor="end" font-style="italic" textLength="77.64" lengthAdjust="spacingAndGlyphs" transform="rotate(-90 1063.46 2125.30)">PGK1</text>
<line x1="1085.95" y1="2111.50" x2="1085.95" y2="2116.50" stroke="#000" stroke-width="2.4"/>
<text x="1096.55" y="2125.30" font-size="30.56" text-anchor="end" font-style="italic" textLength="79.24" lengthAdjust="spacingAndGlyphs" transform="rotate(-90 1096.55 2125.30)">ENO1</text>
<line x1="1119.04" y1="2111.50" x2="1119.04" y2="2116.50" stroke="#000" stroke-width="2.4"/>
<text x="1129.63" y="2125.30" font-size="30.56" text-anchor="end" font-style="italic" textLength="64.68" lengthAdjust="spacingAndGlyphs" transform="rotate(-90 1129.63 2125.30)">IGF2</text>
<line x1="1152.12" y1="2111.50" x2="1152.12" y2="2116.50" stroke="#000" stroke-width="2.4"/>
<text x="1162.72" y="2125.30" font-size="30.56" text-anchor="end" font-style="italic" textLength="103.50" lengthAdjust="spacingAndGlyphs" transform="rotate(-90 1162.72 2125.30)">IGFBP3</text>
<line x1="1185.21" y1="2111.50" x2="1185.21" y2="2116.50" stroke="#000" stroke-width="2.4"/>
<text x="1195.81" y="2125.30" font-size="30.56" text-anchor="end" font-style="italic" textLength="40.42" lengthAdjust="spacingAndGlyphs" transform="rotate(-90 1195.81 2125.30)">CP</text>
<line x1="1218.29" y1="2111.50" x2="1218.29" y2="2116.50" stroke="#000" stroke-width="2.4"/>
<text x="1228.89" y="2125.30" font-size="30.56" text-anchor="end" font-style="italic" textLength="77.60" lengthAdjust="spacingAndGlyphs" transform="rotate(-90 1228.89 2125.30)">TGFA</text>
<line x1="1251.38" y1="2111.50" x2="1251.38" y2="2116.50" stroke="#000" stroke-width="2.4"/>
<text x="1261.98" y="2125.30" font-size="30.56" text-anchor="end" font-style="italic" textLength="103.48" lengthAdjust="spacingAndGlyphs" transform="rotate(-90 1261.98 2125.30)">GAPDH</text>
<line x1="1284.46" y1="2111.50" x2="1284.46" y2="2116.50" stroke="#000" stroke-width="2.4"/>
<text x="1295.06" y="2125.30" font-size="30.56" text-anchor="end" font-style="italic" textLength="76.02" lengthAdjust="spacingAndGlyphs" transform="rotate(-90 1295.06 2125.30)">PDK1</text>
<line x1="1317.55" y1="2111.50" x2="1317.55" y2="2116.50" stroke="#000" stroke-width="2.4"/>
<text x="1328.14" y="2125.30" font-size="30.56" text-anchor="end" font-style="italic" textLength="93.81" lengthAdjust="spacingAndGlyphs" transform="rotate(-90 1328.14 2125.30)">RAD52</text>
<line x1="1350.63" y1="2111.50" x2="1350.63" y2="2116.50" stroke="#000" stroke-width="2.4"/>
<text x="1361.23" y="2125.30" font-size="30.56" text-anchor="end" font-style="italic" textLength="100.24" lengthAdjust="spacingAndGlyphs" transform="rotate(-90 1361.23 2125.30)">VEGFC</text>
<line x1="1383.72" y1="2111.50" x2="1383.72" y2="2116.50" stroke="#000" stroke-width="2.4"/>
<text x="1394.32" y="2125.30" font-size="30.56" text-anchor="end" font-style="italic" textLength="95.43" lengthAdjust="spacingAndGlyphs" transform="rotate(-90 1394.32 2125.30)">EGLN1</text>
<line x1="1416.80" y1="2111.50" x2="1416.80" y2="2116.50" stroke="#000" stroke-width="2.4"/>
<text x="1427.40" y="2125.30" font-size="30.56" text-anchor="end" font-style="italic" textLength="84.10" lengthAdjust="spacingAndGlyphs" transform="rotate(-90 1427.40 2125.30)">BNIP3</text>
<line x1="1449.89" y1="2111.50" x2="1449.89" y2="2116.50" stroke="#000" stroke-width="2.4"/>
<text x="1460.49" y="2125.30" font-size="30.56" text-anchor="end" font-style="italic" textLength="45.28" lengthAdjust="spacingAndGlyphs" transform="rotate(-90 1460.49 2125.30)">ID2</text>
<line x1="1482.97" y1="2111.50" x2="1482.97" y2="2116.50" stroke="#000" stroke-width="2.4"/>
<text x="1493.57" y="2125.30" font-size="30.56" text-anchor="end" font-style="italic" textLength="82.47" lengthAdjust="spacingAndGlyphs" transform="rotate(-90 1493.57 2125.30)">HIF3A</text>
<line x1="1516.06" y1="2111.50" x2="1516.06" y2="2116.50" stroke="#000" stroke-width="2.4"/>
<text x="1526.65" y="2125.30" font-size="30.56" text-anchor="end" font-style="italic" textLength="77.62" lengthAdjust="spacingAndGlyphs" transform="rotate(-90 1526.65 2125.30)">LDHA</text>
<line x1="1549.14" y1="2111.50" x2="1549.14" y2="2116.50" stroke="#000" stroke-width="2.4"/>
<text x="1559.74" y="2125.30" font-size="30.56" text-anchor="end" font-style="italic" textLength="85.69" lengthAdjust="spacingAndGlyphs" transform="rotate(-90 1559.74 2125.30)">TIMP1</text>
<line x1="1582.23" y1="2111.50" x2="1582.23" y2="2116.50" stroke="#000" stroke-width="2.4"/>
<text x="1592.83" y="2125.30" font-size="30.56" text-anchor="end" font-style="italic" textLength="101.89" lengthAdjust="spacingAndGlyphs" transform="rotate(-90 1592.83 2125.30)">MIR210</text>
<line x1="1615.31" y1="2111.50" x2="1615.31" y2="2116.50" stroke="#000" stroke-width="2.4"/>
<text x="1625.91" y="2125.30" font-size="30.56" text-anchor="end" font-style="italic" textLength="103.50" lengthAdjust="spacingAndGlyphs" transform="rotate(-90 1625.91 2125.30)">IGFBP2</text>
<line x1="1648.40" y1="2111.50" x2="1648.40" y2="2116.50" stroke="#000" stroke-width="2.4"/>
<text x="1659.00" y="2125.30" font-size="30.56" text-anchor="end" font-style="italic" textLength="59.82" lengthAdjust="spacingAndGlyphs" transform="rotate(-90 1659.00 2125.30)">EGF</text>
<line x1="1681.48" y1="2111.50" x2="1681.48" y2="2116.50" stroke="#000" stroke-width="2.4"/>
<text x="1692.08" y="2125.30" font-size="30.56" text-anchor="end" font-style="italic" textLength="143.94" lengthAdjust="spacingAndGlyphs" transform="rotate(-90 1692.08 2125.30)">SERPINE1</text>
<line x1="1714.57" y1="2111.50" x2="1714.57" y2="2116.50" stroke="#000" stroke-width="2.4"/>
<text x="1725.16" y="2125.30" font-size="30.56" text-anchor="end" font-style="italic" textLength="108.39" lengthAdjust="spacingAndGlyphs" transform="rotate(-90 1725.16 2125.30)">SLC2A3</text>
<line x1="1747.65" y1="2111.50" x2="1747.65" y2="2116.50" stroke="#000" stroke-width="2.4"/>
<text x="1758.25" y="2125.30" font-size="30.56" text-anchor="end" font-style="italic" textLength="56.61" lengthAdjust="spacingAndGlyphs" transform="rotate(-90 1758.25 2125.30)">HK2</text>
<line x1="1780.74" y1="2111.50" x2="1780.74" y2="2116.50" stroke="#000" stroke-width="2.4"/>
<text x="1791.34" y="2125.30" font-size="30.56" text-anchor="end" font-style="italic" textLength="98.64" lengthAdjust="spacingAndGlyphs" transform="rotate(-90 1791.34 2125.30)">VEGFA</text>
<line x1="1813.82" y1="2111.50" x2="1813.82" y2="2116.50" stroke="#000" stroke-width="2.4"/>
<text x="1824.42" y="2125.30" font-size="30.56" text-anchor="end" font-style="italic" textLength="103.50" lengthAdjust="spacingAndGlyphs" transform="rotate(-90 1824.42 2125.30)">IGFBP1</text>
<line x1="1846.91" y1="2111.50" x2="1846.91" y2="2116.50" stroke="#000" stroke-width="2.4"/>
<text x="1857.51" y="2125.30" font-size="30.56" text-anchor="end" font-style="italic" textLength="103.48" lengthAdjust="spacingAndGlyphs" transform="rotate(-90 1857.51 2125.30)">CITED2</text>
<line x1="1879.99" y1="2111.50" x2="1879.99" y2="2116.50" stroke="#000" stroke-width="2.4"/>
<text x="1890.59" y="2125.30" font-size="30.56" text-anchor="end" font-style="italic" textLength="80.85" lengthAdjust="spacingAndGlyphs" transform="rotate(-90 1890.59 2125.30)">NPPC</text>
<line x1="1913.08" y1="2111.50" x2="1913.08" y2="2116.50" stroke="#000" stroke-width="2.4"/>
<text x="1923.67" y="2125.30" font-size="30.56" text-anchor="end" font-style="italic" textLength="95.43" lengthAdjust="spacingAndGlyphs" transform="rotate(-90 1923.67 2125.30)">EGLN3</text>
<line x1="1946.16" y1="2111.50" x2="1946.16" y2="2116.50" stroke="#000" stroke-width="2.4"/>
<text x="1956.76" y="2125.30" font-size="30.56" text-anchor="end" font-style="italic" textLength="79.24" lengthAdjust="spacingAndGlyphs" transform="rotate(-90 1956.76 2125.30)">NOS2</text>
<text transform="translate(23.0 1784.5) rotate(-90)" text-anchor="middle" font-size="29">log<tspan font-size="17.5" dy="5">2</tspan><tspan dy="-5">(Fold Change)</tspan></text>
<text x="1048.60" y="2293.00" font-size="29.0" text-anchor="middle" textLength="197.60" lengthAdjust="spacingAndGlyphs">Hypoxia Genes</text>
<text x="89.30" y="2121.30" font-size="42" text-anchor="middle" fill="#d7202c" stroke="#d7202c" stroke-width="0.7">*</text>
<text x="1715.50" y="1721.30" font-size="42" text-anchor="middle" fill="#d7202c" stroke="#d7202c" stroke-width="0.7">*</text>
<text x="1779.00" y="1708.30" font-size="42" text-anchor="middle" fill="#d7202c" stroke="#d7202c" stroke-width="0.7">*</text>
<text x="1845.80" y="1686.30" font-size="42" text-anchor="middle" fill="#d7202c" stroke="#d7202c" stroke-width="0.7">*</text>
<text x="1914.50" y="1508.60" font-size="42" text-anchor="middle" fill="#d7202c" stroke="#d7202c" stroke-width="0.7">*</text>
<text x="1944.70" y="1502.10" font-size="42" text-anchor="middle" fill="#d7202c" stroke="#d7202c" stroke-width="0.7">*</text>
<text x="1958.0" y="1934.6" font-size="28.3">-log<tspan font-size="17" dy="6">10</tspan><tspan dy="-6">(padj)</tspan></text>
<rect x="1986.00" y="1952.20" width="29.00" height="140.30" fill="url(#gVir)"/>
<line x1="1986.00" y1="1989.80" x2="1992.00" y2="1989.80" stroke="#fff" stroke-width="1.7"/>
<line x1="2009.00" y1="1989.80" x2="2015.00" y2="1989.80" stroke="#fff" stroke-width="1.7"/>
<text x="2023.80" y="1999.60" font-size="28">0.5</text>
<line x1="1986.00" y1="2026.90" x2="1992.00" y2="2026.90" stroke="#fff" stroke-width="1.7"/>
<line x1="2009.00" y1="2026.90" x2="2015.00" y2="2026.90" stroke="#fff" stroke-width="1.7"/>
<text x="2023.80" y="2036.70" font-size="28">1.0</text>
<line x1="1986.00" y1="2063.60" x2="1992.00" y2="2063.60" stroke="#fff" stroke-width="1.7"/>
<line x1="2009.00" y1="2063.60" x2="2015.00" y2="2063.60" stroke="#fff" stroke-width="1.7"/>
<text x="2023.80" y="2073.40" font-size="28">1.5</text>
</g>
</svg>
</body></html>
